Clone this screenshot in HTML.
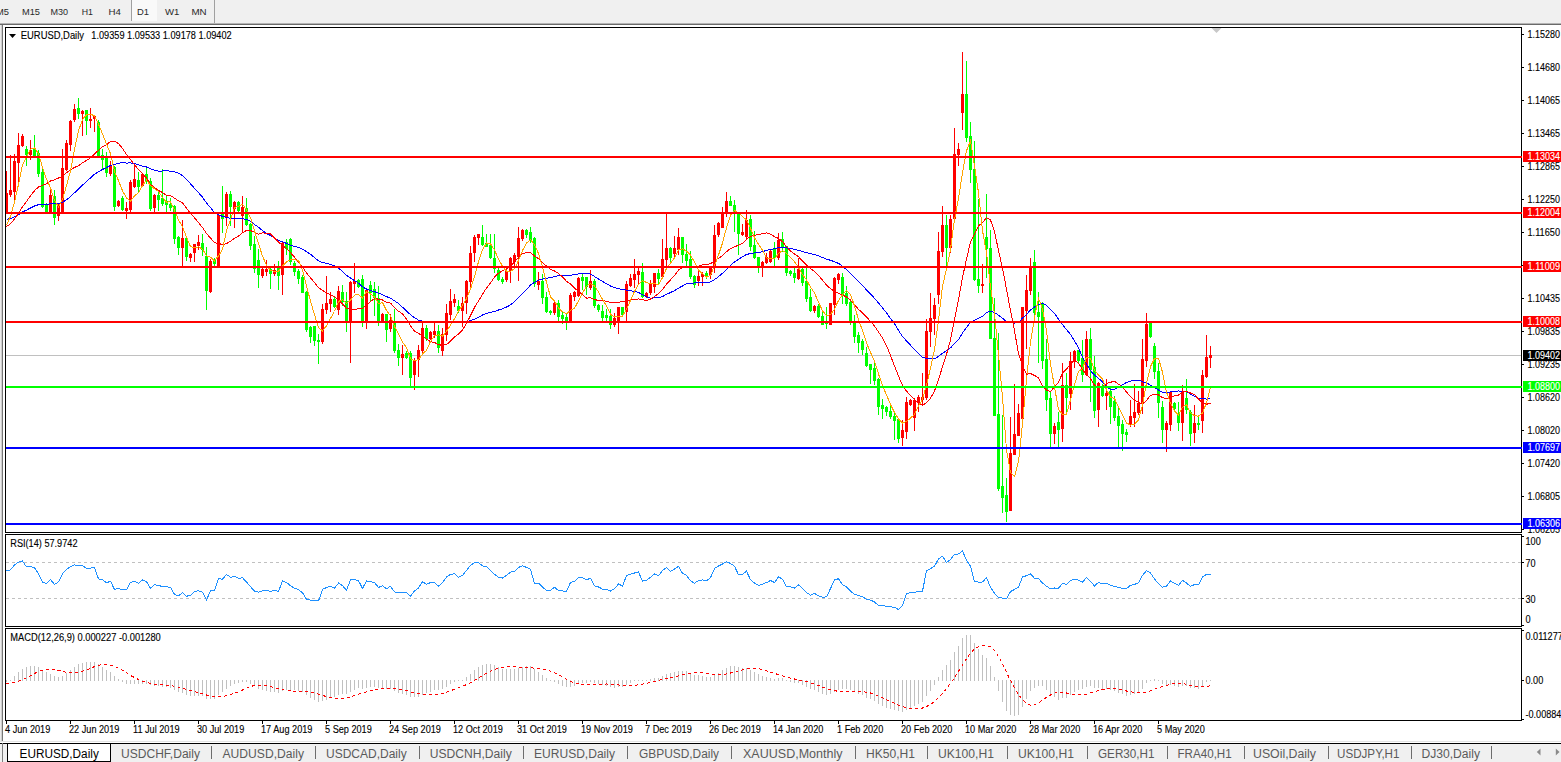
<!DOCTYPE html>
<html><head><meta charset="utf-8"><title>EURUSD,Daily</title>
<style>
html,body{margin:0;padding:0;background:#fff;width:1561px;height:762px;overflow:hidden}
svg{position:absolute;left:0;top:0;display:block}
text{font-family:"Liberation Sans",sans-serif;white-space:pre}
</style></head><body>
<svg width="1561" height="762" viewBox="0 0 1561 762">
<rect x="0" y="0" width="1561" height="762" fill="#fff"/>
<rect x="0" y="0" width="1561" height="23" fill="#f0f0f0"/>
<rect x="0" y="23" width="1561" height="1" fill="#b4b4b4"/>
<rect x="0" y="24" width="1561" height="1" fill="#6a6a6a"/>
<rect x="132" y="0" width="25" height="21" fill="#f9f9f9"/>
<rect x="131" y="0" width="1" height="21" fill="#a0a0a0"/>
<rect x="214" y="0" width="1" height="23" fill="#a0a0a0"/>
<text x="-4" y="15" font-size="9.4" fill="#2a2a2a" stroke="#2a2a2a" stroke-width="0" textLength="13.0" lengthAdjust="spacingAndGlyphs" text-anchor="start">M5</text>
<text x="22" y="15" font-size="9.4" fill="#2a2a2a" stroke="#2a2a2a" stroke-width="0" textLength="18.0" lengthAdjust="spacingAndGlyphs" text-anchor="start">M15</text>
<text x="50.4" y="15" font-size="9.4" fill="#2a2a2a" stroke="#2a2a2a" stroke-width="0" textLength="17.6" lengthAdjust="spacingAndGlyphs" text-anchor="start">M30</text>
<text x="81.7" y="15" font-size="9.4" fill="#2a2a2a" stroke="#2a2a2a" stroke-width="0" textLength="11.2" lengthAdjust="spacingAndGlyphs" text-anchor="start">H1</text>
<text x="108.6" y="15" font-size="9.4" fill="#2a2a2a" stroke="#2a2a2a" stroke-width="0" textLength="12.4" lengthAdjust="spacingAndGlyphs" text-anchor="start">H4</text>
<text x="137" y="15" font-size="9.4" fill="#2a2a2a" stroke="#2a2a2a" stroke-width="0" textLength="12.0" lengthAdjust="spacingAndGlyphs" text-anchor="start">D1</text>
<text x="165" y="15" font-size="9.4" fill="#2a2a2a" stroke="#2a2a2a" stroke-width="0" textLength="14.4" lengthAdjust="spacingAndGlyphs" text-anchor="start">W1</text>
<text x="191.4" y="15" font-size="9.4" fill="#2a2a2a" stroke="#2a2a2a" stroke-width="0" textLength="15.2" lengthAdjust="spacingAndGlyphs" text-anchor="start">MN</text>
<rect x="0" y="25" width="1" height="716" fill="#ececec"/>
<rect x="1" y="25" width="1" height="716" fill="#cfcfcf"/>
<rect x="2" y="25" width="1" height="716" fill="#777777"/>
<g shape-rendering="crispEdges">
<rect x="6" y="355" width="1515" height="1" fill="#c0c0c0"/>
<rect x="6" y="171" width="1" height="42" fill="#ff0000"/>
<rect x="5" y="193" width="3" height="20" fill="#ff0000"/>
<rect x="10" y="155" width="1" height="42" fill="#ff0000"/>
<rect x="9" y="190" width="3" height="5" fill="#ff0000"/>
<rect x="14" y="154" width="1" height="46" fill="#ff0000"/>
<rect x="13" y="161" width="3" height="31" fill="#ff0000"/>
<rect x="18" y="133" width="1" height="54" fill="#ff0000"/>
<rect x="17" y="145" width="3" height="18" fill="#ff0000"/>
<rect x="22" y="134" width="1" height="13" fill="#ff0000"/>
<rect x="21" y="136" width="3" height="10" fill="#ff0000"/>
<rect x="26" y="146" width="1" height="20" fill="#00ff00"/>
<rect x="25" y="149" width="3" height="6" fill="#00ff00"/>
<rect x="30" y="140" width="1" height="20" fill="#ff0000"/>
<rect x="29" y="150" width="3" height="5" fill="#ff0000"/>
<rect x="34" y="135" width="1" height="21" fill="#00ff00"/>
<rect x="33" y="149" width="3" height="7" fill="#00ff00"/>
<rect x="38" y="150" width="1" height="27" fill="#00ff00"/>
<rect x="37" y="153" width="3" height="21" fill="#00ff00"/>
<rect x="42" y="167" width="1" height="41" fill="#00ff00"/>
<rect x="41" y="172" width="3" height="35" fill="#00ff00"/>
<rect x="46" y="203" width="1" height="10" fill="#00ff00"/>
<rect x="45" y="204" width="3" height="8" fill="#00ff00"/>
<rect x="50" y="189" width="1" height="25" fill="#ff0000"/>
<rect x="49" y="195" width="3" height="18" fill="#ff0000"/>
<rect x="54" y="190" width="1" height="35" fill="#00ff00"/>
<rect x="53" y="196" width="3" height="22" fill="#00ff00"/>
<rect x="58" y="204" width="1" height="17" fill="#ff0000"/>
<rect x="57" y="206" width="3" height="10" fill="#ff0000"/>
<rect x="62" y="149" width="1" height="65" fill="#ff0000"/>
<rect x="61" y="168" width="3" height="44" fill="#ff0000"/>
<rect x="66" y="140" width="1" height="31" fill="#ff0000"/>
<rect x="65" y="143" width="3" height="27" fill="#ff0000"/>
<rect x="70" y="120" width="1" height="31" fill="#ff0000"/>
<rect x="69" y="121" width="3" height="24" fill="#ff0000"/>
<rect x="74" y="104" width="1" height="18" fill="#ff0000"/>
<rect x="73" y="109" width="3" height="11" fill="#ff0000"/>
<rect x="78" y="98" width="1" height="21" fill="#00ff00"/>
<rect x="77" y="108" width="3" height="6" fill="#00ff00"/>
<rect x="82" y="110" width="1" height="26" fill="#ff0000"/>
<rect x="81" y="111" width="3" height="3" fill="#ff0000"/>
<rect x="86" y="110" width="1" height="25" fill="#00ff00"/>
<rect x="85" y="110" width="3" height="11" fill="#00ff00"/>
<rect x="90" y="108" width="1" height="20" fill="#ff0000"/>
<rect x="89" y="119" width="3" height="2" fill="#ff0000"/>
<rect x="94" y="115" width="1" height="17" fill="#ff0000"/>
<rect x="93" y="116" width="3" height="3" fill="#ff0000"/>
<rect x="98" y="120" width="1" height="37" fill="#00ff00"/>
<rect x="97" y="122" width="3" height="34" fill="#00ff00"/>
<rect x="102" y="149" width="1" height="21" fill="#00ff00"/>
<rect x="101" y="155" width="3" height="5" fill="#00ff00"/>
<rect x="106" y="152" width="1" height="25" fill="#00ff00"/>
<rect x="105" y="157" width="3" height="16" fill="#00ff00"/>
<rect x="110" y="161" width="1" height="15" fill="#ff0000"/>
<rect x="109" y="166" width="3" height="8" fill="#ff0000"/>
<rect x="114" y="166" width="1" height="45" fill="#00ff00"/>
<rect x="113" y="167" width="3" height="40" fill="#00ff00"/>
<rect x="118" y="200" width="1" height="7" fill="#ff0000"/>
<rect x="117" y="201" width="3" height="5" fill="#ff0000"/>
<rect x="122" y="196" width="1" height="15" fill="#00ff00"/>
<rect x="121" y="198" width="3" height="12" fill="#00ff00"/>
<rect x="126" y="202" width="1" height="17" fill="#ff0000"/>
<rect x="125" y="208" width="3" height="3" fill="#ff0000"/>
<rect x="130" y="180" width="1" height="32" fill="#ff0000"/>
<rect x="129" y="182" width="3" height="28" fill="#ff0000"/>
<rect x="134" y="164" width="1" height="24" fill="#ff0000"/>
<rect x="133" y="179" width="3" height="8" fill="#ff0000"/>
<rect x="138" y="172" width="1" height="21" fill="#00ff00"/>
<rect x="137" y="180" width="3" height="7" fill="#00ff00"/>
<rect x="142" y="173" width="1" height="13" fill="#ff0000"/>
<rect x="141" y="174" width="3" height="12" fill="#ff0000"/>
<rect x="146" y="168" width="1" height="16" fill="#00ff00"/>
<rect x="145" y="174" width="3" height="8" fill="#00ff00"/>
<rect x="150" y="178" width="1" height="33" fill="#00ff00"/>
<rect x="149" y="181" width="3" height="28" fill="#00ff00"/>
<rect x="154" y="194" width="1" height="19" fill="#ff0000"/>
<rect x="153" y="195" width="3" height="13" fill="#ff0000"/>
<rect x="158" y="190" width="1" height="21" fill="#00ff00"/>
<rect x="157" y="195" width="3" height="5" fill="#00ff00"/>
<rect x="162" y="169" width="1" height="37" fill="#00ff00"/>
<rect x="161" y="198" width="3" height="6" fill="#00ff00"/>
<rect x="166" y="196" width="1" height="16" fill="#00ff00"/>
<rect x="165" y="201" width="3" height="4" fill="#00ff00"/>
<rect x="170" y="198" width="1" height="13" fill="#00ff00"/>
<rect x="169" y="204" width="3" height="4" fill="#00ff00"/>
<rect x="174" y="205" width="1" height="39" fill="#00ff00"/>
<rect x="173" y="206" width="3" height="33" fill="#00ff00"/>
<rect x="178" y="236" width="1" height="19" fill="#00ff00"/>
<rect x="177" y="237" width="3" height="11" fill="#00ff00"/>
<rect x="182" y="220" width="1" height="47" fill="#ff0000"/>
<rect x="181" y="238" width="3" height="10" fill="#ff0000"/>
<rect x="186" y="238" width="1" height="23" fill="#00ff00"/>
<rect x="185" y="238" width="3" height="19" fill="#00ff00"/>
<rect x="190" y="253" width="1" height="9" fill="#ff0000"/>
<rect x="189" y="254" width="3" height="4" fill="#ff0000"/>
<rect x="194" y="244" width="1" height="18" fill="#ff0000"/>
<rect x="193" y="244" width="3" height="9" fill="#ff0000"/>
<rect x="198" y="235" width="1" height="15" fill="#ff0000"/>
<rect x="197" y="242" width="3" height="4" fill="#ff0000"/>
<rect x="202" y="234" width="1" height="22" fill="#00ff00"/>
<rect x="201" y="243" width="3" height="7" fill="#00ff00"/>
<rect x="206" y="247" width="1" height="63" fill="#00ff00"/>
<rect x="205" y="256" width="3" height="35" fill="#00ff00"/>
<rect x="210" y="259" width="1" height="34" fill="#ff0000"/>
<rect x="209" y="261" width="3" height="31" fill="#ff0000"/>
<rect x="214" y="258" width="1" height="8" fill="#00ff00"/>
<rect x="213" y="259" width="3" height="5" fill="#00ff00"/>
<rect x="218" y="214" width="1" height="53" fill="#ff0000"/>
<rect x="217" y="215" width="3" height="52" fill="#ff0000"/>
<rect x="222" y="186" width="1" height="47" fill="#00ff00"/>
<rect x="221" y="213" width="3" height="6" fill="#00ff00"/>
<rect x="226" y="192" width="1" height="34" fill="#ff0000"/>
<rect x="225" y="194" width="3" height="23" fill="#ff0000"/>
<rect x="230" y="191" width="1" height="35" fill="#00ff00"/>
<rect x="229" y="194" width="3" height="13" fill="#00ff00"/>
<rect x="234" y="201" width="1" height="27" fill="#ff0000"/>
<rect x="233" y="202" width="3" height="7" fill="#ff0000"/>
<rect x="238" y="201" width="1" height="13" fill="#00ff00"/>
<rect x="237" y="202" width="3" height="9" fill="#00ff00"/>
<rect x="242" y="196" width="1" height="37" fill="#ff0000"/>
<rect x="241" y="207" width="3" height="9" fill="#ff0000"/>
<rect x="246" y="198" width="1" height="28" fill="#00ff00"/>
<rect x="245" y="208" width="3" height="17" fill="#00ff00"/>
<rect x="250" y="223" width="1" height="27" fill="#00ff00"/>
<rect x="249" y="224" width="3" height="22" fill="#00ff00"/>
<rect x="254" y="236" width="1" height="37" fill="#00ff00"/>
<rect x="253" y="244" width="3" height="25" fill="#00ff00"/>
<rect x="258" y="249" width="1" height="39" fill="#00ff00"/>
<rect x="257" y="260" width="3" height="15" fill="#00ff00"/>
<rect x="262" y="267" width="1" height="11" fill="#ff0000"/>
<rect x="261" y="269" width="3" height="7" fill="#ff0000"/>
<rect x="266" y="260" width="1" height="16" fill="#ff0000"/>
<rect x="265" y="269" width="3" height="3" fill="#ff0000"/>
<rect x="270" y="268" width="1" height="21" fill="#00ff00"/>
<rect x="269" y="269" width="3" height="5" fill="#00ff00"/>
<rect x="274" y="264" width="1" height="12" fill="#ff0000"/>
<rect x="273" y="270" width="3" height="4" fill="#ff0000"/>
<rect x="278" y="261" width="1" height="29" fill="#00ff00"/>
<rect x="277" y="267" width="3" height="9" fill="#00ff00"/>
<rect x="282" y="242" width="1" height="53" fill="#ff0000"/>
<rect x="281" y="243" width="3" height="32" fill="#ff0000"/>
<rect x="286" y="239" width="1" height="16" fill="#00ff00"/>
<rect x="285" y="242" width="3" height="7" fill="#00ff00"/>
<rect x="290" y="238" width="1" height="27" fill="#00ff00"/>
<rect x="289" y="239" width="3" height="23" fill="#00ff00"/>
<rect x="294" y="261" width="1" height="15" fill="#00ff00"/>
<rect x="293" y="263" width="3" height="9" fill="#00ff00"/>
<rect x="298" y="269" width="1" height="15" fill="#00ff00"/>
<rect x="297" y="271" width="3" height="8" fill="#00ff00"/>
<rect x="302" y="275" width="1" height="18" fill="#00ff00"/>
<rect x="301" y="277" width="3" height="16" fill="#00ff00"/>
<rect x="306" y="291" width="1" height="41" fill="#00ff00"/>
<rect x="305" y="292" width="3" height="38" fill="#00ff00"/>
<rect x="310" y="326" width="1" height="17" fill="#00ff00"/>
<rect x="309" y="327" width="3" height="10" fill="#00ff00"/>
<rect x="314" y="326" width="1" height="20" fill="#00ff00"/>
<rect x="313" y="326" width="3" height="15" fill="#00ff00"/>
<rect x="318" y="334" width="1" height="30" fill="#00ff00"/>
<rect x="317" y="340" width="3" height="2" fill="#00ff00"/>
<rect x="322" y="304" width="1" height="40" fill="#ff0000"/>
<rect x="321" y="309" width="3" height="33" fill="#ff0000"/>
<rect x="326" y="276" width="1" height="38" fill="#ff0000"/>
<rect x="325" y="303" width="3" height="7" fill="#ff0000"/>
<rect x="330" y="292" width="1" height="20" fill="#ff0000"/>
<rect x="329" y="299" width="3" height="5" fill="#ff0000"/>
<rect x="334" y="297" width="1" height="11" fill="#00ff00"/>
<rect x="333" y="299" width="3" height="8" fill="#00ff00"/>
<rect x="338" y="286" width="1" height="29" fill="#ff0000"/>
<rect x="337" y="291" width="3" height="19" fill="#ff0000"/>
<rect x="342" y="285" width="1" height="21" fill="#00ff00"/>
<rect x="341" y="292" width="3" height="10" fill="#00ff00"/>
<rect x="346" y="292" width="1" height="40" fill="#00ff00"/>
<rect x="345" y="301" width="3" height="21" fill="#00ff00"/>
<rect x="350" y="281" width="1" height="82" fill="#ff0000"/>
<rect x="349" y="282" width="3" height="40" fill="#ff0000"/>
<rect x="354" y="263" width="1" height="30" fill="#ff0000"/>
<rect x="353" y="281" width="3" height="3" fill="#ff0000"/>
<rect x="358" y="279" width="1" height="9" fill="#00ff00"/>
<rect x="357" y="280" width="3" height="7" fill="#00ff00"/>
<rect x="362" y="275" width="1" height="52" fill="#00ff00"/>
<rect x="361" y="279" width="3" height="42" fill="#00ff00"/>
<rect x="366" y="289" width="1" height="40" fill="#ff0000"/>
<rect x="365" y="290" width="3" height="31" fill="#ff0000"/>
<rect x="370" y="281" width="1" height="20" fill="#00ff00"/>
<rect x="369" y="285" width="3" height="8" fill="#00ff00"/>
<rect x="374" y="282" width="1" height="34" fill="#00ff00"/>
<rect x="373" y="289" width="3" height="9" fill="#00ff00"/>
<rect x="378" y="286" width="1" height="40" fill="#00ff00"/>
<rect x="377" y="298" width="3" height="23" fill="#00ff00"/>
<rect x="382" y="313" width="1" height="10" fill="#ff0000"/>
<rect x="381" y="314" width="3" height="8" fill="#ff0000"/>
<rect x="386" y="314" width="1" height="28" fill="#00ff00"/>
<rect x="385" y="314" width="3" height="16" fill="#00ff00"/>
<rect x="390" y="314" width="1" height="18" fill="#ff0000"/>
<rect x="389" y="320" width="3" height="9" fill="#ff0000"/>
<rect x="394" y="309" width="1" height="44" fill="#00ff00"/>
<rect x="393" y="322" width="3" height="29" fill="#00ff00"/>
<rect x="398" y="344" width="1" height="22" fill="#00ff00"/>
<rect x="397" y="350" width="3" height="8" fill="#00ff00"/>
<rect x="402" y="345" width="1" height="30" fill="#ff0000"/>
<rect x="401" y="354" width="3" height="4" fill="#ff0000"/>
<rect x="406" y="351" width="1" height="8" fill="#00ff00"/>
<rect x="405" y="353" width="3" height="5" fill="#00ff00"/>
<rect x="410" y="351" width="1" height="37" fill="#00ff00"/>
<rect x="409" y="353" width="3" height="25" fill="#00ff00"/>
<rect x="414" y="358" width="1" height="32" fill="#ff0000"/>
<rect x="413" y="360" width="3" height="15" fill="#ff0000"/>
<rect x="418" y="345" width="1" height="32" fill="#ff0000"/>
<rect x="417" y="350" width="3" height="10" fill="#ff0000"/>
<rect x="422" y="322" width="1" height="31" fill="#ff0000"/>
<rect x="421" y="328" width="3" height="23" fill="#ff0000"/>
<rect x="426" y="325" width="1" height="16" fill="#00ff00"/>
<rect x="425" y="328" width="3" height="11" fill="#00ff00"/>
<rect x="430" y="331" width="1" height="9" fill="#ff0000"/>
<rect x="429" y="332" width="3" height="7" fill="#ff0000"/>
<rect x="434" y="322" width="1" height="16" fill="#ff0000"/>
<rect x="433" y="331" width="3" height="4" fill="#ff0000"/>
<rect x="438" y="325" width="1" height="28" fill="#00ff00"/>
<rect x="437" y="331" width="3" height="17" fill="#00ff00"/>
<rect x="442" y="328" width="1" height="28" fill="#ff0000"/>
<rect x="441" y="334" width="3" height="17" fill="#ff0000"/>
<rect x="446" y="304" width="1" height="37" fill="#ff0000"/>
<rect x="445" y="313" width="3" height="22" fill="#ff0000"/>
<rect x="450" y="289" width="1" height="31" fill="#ff0000"/>
<rect x="449" y="301" width="3" height="14" fill="#ff0000"/>
<rect x="454" y="294" width="1" height="13" fill="#ff0000"/>
<rect x="453" y="299" width="3" height="4" fill="#ff0000"/>
<rect x="458" y="300" width="1" height="13" fill="#00ff00"/>
<rect x="457" y="306" width="3" height="5" fill="#00ff00"/>
<rect x="462" y="297" width="1" height="30" fill="#ff0000"/>
<rect x="461" y="303" width="3" height="8" fill="#ff0000"/>
<rect x="466" y="280" width="1" height="34" fill="#ff0000"/>
<rect x="465" y="281" width="3" height="22" fill="#ff0000"/>
<rect x="470" y="246" width="1" height="44" fill="#ff0000"/>
<rect x="469" y="253" width="3" height="29" fill="#ff0000"/>
<rect x="474" y="235" width="1" height="27" fill="#ff0000"/>
<rect x="473" y="237" width="3" height="16" fill="#ff0000"/>
<rect x="478" y="234" width="1" height="11" fill="#ff0000"/>
<rect x="477" y="234" width="3" height="4" fill="#ff0000"/>
<rect x="482" y="225" width="1" height="21" fill="#00ff00"/>
<rect x="481" y="237" width="3" height="8" fill="#00ff00"/>
<rect x="486" y="234" width="1" height="13" fill="#00ff00"/>
<rect x="485" y="243" width="3" height="4" fill="#00ff00"/>
<rect x="490" y="234" width="1" height="25" fill="#00ff00"/>
<rect x="489" y="245" width="3" height="13" fill="#00ff00"/>
<rect x="494" y="234" width="1" height="39" fill="#00ff00"/>
<rect x="493" y="258" width="3" height="11" fill="#00ff00"/>
<rect x="498" y="268" width="1" height="13" fill="#00ff00"/>
<rect x="497" y="270" width="3" height="10" fill="#00ff00"/>
<rect x="502" y="277" width="1" height="7" fill="#00ff00"/>
<rect x="501" y="279" width="3" height="3" fill="#00ff00"/>
<rect x="506" y="267" width="1" height="15" fill="#ff0000"/>
<rect x="505" y="271" width="3" height="9" fill="#ff0000"/>
<rect x="510" y="257" width="1" height="26" fill="#ff0000"/>
<rect x="509" y="258" width="3" height="13" fill="#ff0000"/>
<rect x="514" y="253" width="1" height="14" fill="#ff0000"/>
<rect x="513" y="255" width="3" height="7" fill="#ff0000"/>
<rect x="518" y="227" width="1" height="54" fill="#ff0000"/>
<rect x="517" y="238" width="3" height="19" fill="#ff0000"/>
<rect x="522" y="229" width="1" height="12" fill="#ff0000"/>
<rect x="521" y="230" width="3" height="9" fill="#ff0000"/>
<rect x="526" y="229" width="1" height="9" fill="#00ff00"/>
<rect x="525" y="230" width="3" height="5" fill="#00ff00"/>
<rect x="530" y="227" width="1" height="16" fill="#00ff00"/>
<rect x="529" y="232" width="3" height="8" fill="#00ff00"/>
<rect x="534" y="237" width="1" height="50" fill="#00ff00"/>
<rect x="533" y="238" width="3" height="46" fill="#00ff00"/>
<rect x="538" y="272" width="1" height="18" fill="#ff0000"/>
<rect x="537" y="281" width="3" height="4" fill="#ff0000"/>
<rect x="542" y="274" width="1" height="30" fill="#00ff00"/>
<rect x="541" y="281" width="3" height="17" fill="#00ff00"/>
<rect x="546" y="292" width="1" height="21" fill="#00ff00"/>
<rect x="545" y="297" width="3" height="15" fill="#00ff00"/>
<rect x="550" y="310" width="1" height="5" fill="#00ff00"/>
<rect x="549" y="311" width="3" height="2" fill="#00ff00"/>
<rect x="554" y="300" width="1" height="15" fill="#ff0000"/>
<rect x="553" y="303" width="3" height="10" fill="#ff0000"/>
<rect x="558" y="300" width="1" height="22" fill="#00ff00"/>
<rect x="557" y="303" width="3" height="14" fill="#00ff00"/>
<rect x="562" y="312" width="1" height="12" fill="#00ff00"/>
<rect x="561" y="315" width="3" height="4" fill="#00ff00"/>
<rect x="566" y="313" width="1" height="17" fill="#00ff00"/>
<rect x="565" y="317" width="3" height="5" fill="#00ff00"/>
<rect x="570" y="293" width="1" height="29" fill="#ff0000"/>
<rect x="569" y="295" width="3" height="27" fill="#ff0000"/>
<rect x="574" y="291" width="1" height="10" fill="#ff0000"/>
<rect x="573" y="292" width="3" height="5" fill="#ff0000"/>
<rect x="578" y="277" width="1" height="20" fill="#ff0000"/>
<rect x="577" y="278" width="3" height="18" fill="#ff0000"/>
<rect x="582" y="274" width="1" height="16" fill="#00ff00"/>
<rect x="581" y="277" width="3" height="4" fill="#00ff00"/>
<rect x="586" y="277" width="1" height="18" fill="#00ff00"/>
<rect x="585" y="277" width="3" height="10" fill="#00ff00"/>
<rect x="590" y="270" width="1" height="20" fill="#ff0000"/>
<rect x="589" y="281" width="3" height="7" fill="#ff0000"/>
<rect x="594" y="279" width="1" height="29" fill="#00ff00"/>
<rect x="593" y="281" width="3" height="25" fill="#00ff00"/>
<rect x="598" y="304" width="1" height="8" fill="#00ff00"/>
<rect x="597" y="305" width="3" height="5" fill="#00ff00"/>
<rect x="602" y="305" width="1" height="17" fill="#00ff00"/>
<rect x="601" y="311" width="3" height="7" fill="#00ff00"/>
<rect x="606" y="309" width="1" height="13" fill="#00ff00"/>
<rect x="605" y="315" width="3" height="3" fill="#00ff00"/>
<rect x="610" y="309" width="1" height="20" fill="#00ff00"/>
<rect x="609" y="316" width="3" height="9" fill="#00ff00"/>
<rect x="614" y="313" width="1" height="14" fill="#ff0000"/>
<rect x="613" y="318" width="3" height="7" fill="#ff0000"/>
<rect x="618" y="307" width="1" height="27" fill="#ff0000"/>
<rect x="617" y="307" width="3" height="14" fill="#ff0000"/>
<rect x="622" y="307" width="1" height="8" fill="#00ff00"/>
<rect x="621" y="307" width="3" height="8" fill="#00ff00"/>
<rect x="626" y="281" width="1" height="41" fill="#ff0000"/>
<rect x="625" y="284" width="3" height="28" fill="#ff0000"/>
<rect x="630" y="274" width="1" height="13" fill="#ff0000"/>
<rect x="629" y="278" width="3" height="8" fill="#ff0000"/>
<rect x="634" y="259" width="1" height="29" fill="#ff0000"/>
<rect x="633" y="274" width="3" height="6" fill="#ff0000"/>
<rect x="638" y="268" width="1" height="17" fill="#ff0000"/>
<rect x="637" y="271" width="3" height="4" fill="#ff0000"/>
<rect x="642" y="263" width="1" height="35" fill="#00ff00"/>
<rect x="641" y="272" width="3" height="25" fill="#00ff00"/>
<rect x="646" y="292" width="1" height="6" fill="#ff0000"/>
<rect x="645" y="293" width="3" height="4" fill="#ff0000"/>
<rect x="650" y="280" width="1" height="15" fill="#ff0000"/>
<rect x="649" y="284" width="3" height="9" fill="#ff0000"/>
<rect x="654" y="273" width="1" height="20" fill="#ff0000"/>
<rect x="653" y="273" width="3" height="14" fill="#ff0000"/>
<rect x="658" y="269" width="1" height="15" fill="#00ff00"/>
<rect x="657" y="273" width="3" height="6" fill="#00ff00"/>
<rect x="662" y="239" width="1" height="38" fill="#ff0000"/>
<rect x="661" y="259" width="3" height="18" fill="#ff0000"/>
<rect x="666" y="213" width="1" height="53" fill="#ff0000"/>
<rect x="665" y="248" width="3" height="12" fill="#ff0000"/>
<rect x="670" y="247" width="1" height="16" fill="#00ff00"/>
<rect x="669" y="248" width="3" height="10" fill="#00ff00"/>
<rect x="674" y="236" width="1" height="22" fill="#ff0000"/>
<rect x="673" y="248" width="3" height="6" fill="#ff0000"/>
<rect x="678" y="228" width="1" height="27" fill="#ff0000"/>
<rect x="677" y="237" width="3" height="13" fill="#ff0000"/>
<rect x="682" y="237" width="1" height="26" fill="#00ff00"/>
<rect x="681" y="237" width="3" height="18" fill="#00ff00"/>
<rect x="686" y="244" width="1" height="22" fill="#00ff00"/>
<rect x="685" y="254" width="3" height="7" fill="#00ff00"/>
<rect x="690" y="251" width="1" height="28" fill="#00ff00"/>
<rect x="689" y="259" width="3" height="18" fill="#00ff00"/>
<rect x="694" y="275" width="1" height="13" fill="#00ff00"/>
<rect x="693" y="276" width="3" height="9" fill="#00ff00"/>
<rect x="698" y="271" width="1" height="15" fill="#ff0000"/>
<rect x="697" y="276" width="3" height="5" fill="#ff0000"/>
<rect x="702" y="272" width="1" height="14" fill="#ff0000"/>
<rect x="701" y="274" width="3" height="3" fill="#ff0000"/>
<rect x="706" y="271" width="1" height="8" fill="#00ff00"/>
<rect x="705" y="273" width="3" height="4" fill="#00ff00"/>
<rect x="710" y="267" width="1" height="12" fill="#ff0000"/>
<rect x="709" y="268" width="3" height="7" fill="#ff0000"/>
<rect x="714" y="225" width="1" height="48" fill="#ff0000"/>
<rect x="713" y="235" width="3" height="33" fill="#ff0000"/>
<rect x="718" y="222" width="1" height="15" fill="#ff0000"/>
<rect x="717" y="223" width="3" height="12" fill="#ff0000"/>
<rect x="722" y="207" width="1" height="21" fill="#ff0000"/>
<rect x="721" y="213" width="3" height="15" fill="#ff0000"/>
<rect x="726" y="192" width="1" height="25" fill="#ff0000"/>
<rect x="725" y="201" width="3" height="12" fill="#ff0000"/>
<rect x="730" y="196" width="1" height="10" fill="#00ff00"/>
<rect x="729" y="201" width="3" height="5" fill="#00ff00"/>
<rect x="734" y="200" width="1" height="32" fill="#00ff00"/>
<rect x="733" y="205" width="3" height="7" fill="#00ff00"/>
<rect x="738" y="213" width="1" height="42" fill="#00ff00"/>
<rect x="737" y="214" width="3" height="20" fill="#00ff00"/>
<rect x="742" y="224" width="1" height="12" fill="#ff0000"/>
<rect x="741" y="232" width="3" height="3" fill="#ff0000"/>
<rect x="746" y="210" width="1" height="29" fill="#ff0000"/>
<rect x="745" y="220" width="3" height="17" fill="#ff0000"/>
<rect x="750" y="215" width="1" height="36" fill="#00ff00"/>
<rect x="749" y="219" width="3" height="28" fill="#00ff00"/>
<rect x="754" y="231" width="1" height="28" fill="#00ff00"/>
<rect x="753" y="245" width="3" height="13" fill="#00ff00"/>
<rect x="758" y="257" width="1" height="16" fill="#00ff00"/>
<rect x="757" y="257" width="3" height="10" fill="#00ff00"/>
<rect x="762" y="261" width="1" height="16" fill="#ff0000"/>
<rect x="761" y="262" width="3" height="5" fill="#ff0000"/>
<rect x="766" y="253" width="1" height="11" fill="#ff0000"/>
<rect x="765" y="257" width="3" height="6" fill="#ff0000"/>
<rect x="770" y="250" width="1" height="13" fill="#ff0000"/>
<rect x="769" y="251" width="3" height="11" fill="#ff0000"/>
<rect x="774" y="242" width="1" height="25" fill="#00ff00"/>
<rect x="773" y="249" width="3" height="9" fill="#00ff00"/>
<rect x="778" y="233" width="1" height="27" fill="#ff0000"/>
<rect x="777" y="240" width="3" height="18" fill="#ff0000"/>
<rect x="782" y="232" width="1" height="20" fill="#00ff00"/>
<rect x="781" y="239" width="3" height="8" fill="#00ff00"/>
<rect x="786" y="246" width="1" height="30" fill="#00ff00"/>
<rect x="785" y="246" width="3" height="27" fill="#00ff00"/>
<rect x="790" y="270" width="1" height="6" fill="#00ff00"/>
<rect x="789" y="271" width="3" height="3" fill="#00ff00"/>
<rect x="794" y="268" width="1" height="15" fill="#00ff00"/>
<rect x="793" y="273" width="3" height="5" fill="#00ff00"/>
<rect x="798" y="258" width="1" height="22" fill="#ff0000"/>
<rect x="797" y="269" width="3" height="10" fill="#ff0000"/>
<rect x="802" y="268" width="1" height="18" fill="#00ff00"/>
<rect x="801" y="269" width="3" height="14" fill="#00ff00"/>
<rect x="806" y="264" width="1" height="38" fill="#00ff00"/>
<rect x="805" y="281" width="3" height="18" fill="#00ff00"/>
<rect x="810" y="289" width="1" height="23" fill="#00ff00"/>
<rect x="809" y="297" width="3" height="14" fill="#00ff00"/>
<rect x="814" y="305" width="1" height="8" fill="#ff0000"/>
<rect x="813" y="306" width="3" height="5" fill="#ff0000"/>
<rect x="818" y="304" width="1" height="14" fill="#00ff00"/>
<rect x="817" y="306" width="3" height="11" fill="#00ff00"/>
<rect x="822" y="311" width="1" height="14" fill="#00ff00"/>
<rect x="821" y="316" width="3" height="9" fill="#00ff00"/>
<rect x="826" y="307" width="1" height="22" fill="#00ff00"/>
<rect x="825" y="321" width="3" height="3" fill="#00ff00"/>
<rect x="830" y="303" width="1" height="22" fill="#ff0000"/>
<rect x="829" y="303" width="3" height="22" fill="#ff0000"/>
<rect x="834" y="277" width="1" height="38" fill="#ff0000"/>
<rect x="833" y="278" width="3" height="27" fill="#ff0000"/>
<rect x="838" y="273" width="1" height="11" fill="#ff0000"/>
<rect x="837" y="274" width="3" height="6" fill="#ff0000"/>
<rect x="842" y="273" width="1" height="31" fill="#00ff00"/>
<rect x="841" y="277" width="3" height="19" fill="#00ff00"/>
<rect x="846" y="286" width="1" height="20" fill="#00ff00"/>
<rect x="845" y="293" width="3" height="11" fill="#00ff00"/>
<rect x="850" y="300" width="1" height="25" fill="#00ff00"/>
<rect x="849" y="302" width="3" height="21" fill="#00ff00"/>
<rect x="854" y="315" width="1" height="28" fill="#00ff00"/>
<rect x="853" y="323" width="3" height="14" fill="#00ff00"/>
<rect x="858" y="332" width="1" height="21" fill="#00ff00"/>
<rect x="857" y="335" width="3" height="8" fill="#00ff00"/>
<rect x="862" y="339" width="1" height="16" fill="#00ff00"/>
<rect x="861" y="341" width="3" height="9" fill="#00ff00"/>
<rect x="866" y="347" width="1" height="20" fill="#00ff00"/>
<rect x="865" y="353" width="3" height="13" fill="#00ff00"/>
<rect x="870" y="364" width="1" height="20" fill="#00ff00"/>
<rect x="869" y="364" width="3" height="6" fill="#00ff00"/>
<rect x="874" y="360" width="1" height="25" fill="#00ff00"/>
<rect x="873" y="368" width="3" height="13" fill="#00ff00"/>
<rect x="878" y="378" width="1" height="37" fill="#00ff00"/>
<rect x="877" y="379" width="3" height="28" fill="#00ff00"/>
<rect x="882" y="399" width="1" height="20" fill="#00ff00"/>
<rect x="881" y="405" width="3" height="4" fill="#00ff00"/>
<rect x="886" y="406" width="1" height="10" fill="#00ff00"/>
<rect x="885" y="407" width="3" height="5" fill="#00ff00"/>
<rect x="890" y="405" width="1" height="14" fill="#00ff00"/>
<rect x="889" y="411" width="3" height="6" fill="#00ff00"/>
<rect x="894" y="413" width="1" height="27" fill="#00ff00"/>
<rect x="893" y="416" width="3" height="5" fill="#00ff00"/>
<rect x="898" y="418" width="1" height="25" fill="#00ff00"/>
<rect x="897" y="419" width="3" height="20" fill="#00ff00"/>
<rect x="902" y="420" width="1" height="26" fill="#ff0000"/>
<rect x="901" y="430" width="3" height="8" fill="#ff0000"/>
<rect x="906" y="397" width="1" height="42" fill="#ff0000"/>
<rect x="905" y="402" width="3" height="30" fill="#ff0000"/>
<rect x="910" y="399" width="1" height="7" fill="#ff0000"/>
<rect x="909" y="400" width="3" height="5" fill="#ff0000"/>
<rect x="914" y="398" width="1" height="33" fill="#ff0000"/>
<rect x="913" y="400" width="3" height="18" fill="#ff0000"/>
<rect x="918" y="395" width="1" height="17" fill="#ff0000"/>
<rect x="917" y="397" width="3" height="6" fill="#ff0000"/>
<rect x="922" y="373" width="1" height="33" fill="#ff0000"/>
<rect x="921" y="397" width="3" height="3" fill="#ff0000"/>
<rect x="926" y="319" width="1" height="81" fill="#ff0000"/>
<rect x="925" y="331" width="3" height="67" fill="#ff0000"/>
<rect x="930" y="293" width="1" height="54" fill="#ff0000"/>
<rect x="929" y="318" width="3" height="14" fill="#ff0000"/>
<rect x="934" y="298" width="1" height="37" fill="#ff0000"/>
<rect x="933" y="305" width="3" height="14" fill="#ff0000"/>
<rect x="938" y="232" width="1" height="72" fill="#ff0000"/>
<rect x="937" y="251" width="3" height="44" fill="#ff0000"/>
<rect x="942" y="206" width="1" height="51" fill="#ff0000"/>
<rect x="941" y="225" width="3" height="27" fill="#ff0000"/>
<rect x="946" y="215" width="1" height="55" fill="#00ff00"/>
<rect x="945" y="225" width="3" height="23" fill="#00ff00"/>
<rect x="950" y="215" width="1" height="38" fill="#ff0000"/>
<rect x="949" y="219" width="3" height="29" fill="#ff0000"/>
<rect x="954" y="128" width="1" height="91" fill="#ff0000"/>
<rect x="953" y="154" width="3" height="65" fill="#ff0000"/>
<rect x="958" y="143" width="1" height="23" fill="#ff0000"/>
<rect x="957" y="149" width="3" height="6" fill="#ff0000"/>
<rect x="962" y="52" width="1" height="78" fill="#ff0000"/>
<rect x="961" y="94" width="3" height="19" fill="#ff0000"/>
<rect x="966" y="61" width="1" height="81" fill="#00ff00"/>
<rect x="965" y="94" width="3" height="44" fill="#00ff00"/>
<rect x="970" y="122" width="1" height="61" fill="#00ff00"/>
<rect x="969" y="136" width="3" height="34" fill="#00ff00"/>
<rect x="974" y="141" width="1" height="140" fill="#00ff00"/>
<rect x="973" y="169" width="3" height="111" fill="#00ff00"/>
<rect x="978" y="199" width="1" height="94" fill="#00ff00"/>
<rect x="977" y="279" width="3" height="7" fill="#00ff00"/>
<rect x="982" y="264" width="1" height="29" fill="#ff0000"/>
<rect x="981" y="284" width="3" height="2" fill="#ff0000"/>
<rect x="986" y="194" width="1" height="84" fill="#00ff00"/>
<rect x="985" y="237" width="3" height="12" fill="#00ff00"/>
<rect x="990" y="230" width="1" height="109" fill="#00ff00"/>
<rect x="989" y="248" width="3" height="91" fill="#00ff00"/>
<rect x="994" y="298" width="1" height="118" fill="#00ff00"/>
<rect x="993" y="338" width="3" height="78" fill="#00ff00"/>
<rect x="998" y="333" width="1" height="158" fill="#00ff00"/>
<rect x="997" y="414" width="3" height="75" fill="#00ff00"/>
<rect x="1002" y="415" width="1" height="98" fill="#00ff00"/>
<rect x="1001" y="486" width="3" height="12" fill="#00ff00"/>
<rect x="1006" y="478" width="1" height="44" fill="#00ff00"/>
<rect x="1005" y="495" width="3" height="17" fill="#00ff00"/>
<rect x="1010" y="417" width="1" height="94" fill="#ff0000"/>
<rect x="1009" y="453" width="3" height="58" fill="#ff0000"/>
<rect x="1014" y="384" width="1" height="71" fill="#ff0000"/>
<rect x="1013" y="434" width="3" height="21" fill="#ff0000"/>
<rect x="1018" y="404" width="1" height="32" fill="#ff0000"/>
<rect x="1017" y="413" width="3" height="23" fill="#ff0000"/>
<rect x="1022" y="307" width="1" height="112" fill="#ff0000"/>
<rect x="1021" y="307" width="3" height="112" fill="#ff0000"/>
<rect x="1026" y="275" width="1" height="74" fill="#ff0000"/>
<rect x="1025" y="290" width="3" height="21" fill="#ff0000"/>
<rect x="1030" y="258" width="1" height="37" fill="#ff0000"/>
<rect x="1029" y="266" width="3" height="25" fill="#ff0000"/>
<rect x="1034" y="250" width="1" height="65" fill="#00ff00"/>
<rect x="1033" y="262" width="3" height="51" fill="#00ff00"/>
<rect x="1038" y="292" width="1" height="71" fill="#00ff00"/>
<rect x="1037" y="312" width="3" height="5" fill="#00ff00"/>
<rect x="1042" y="302" width="1" height="67" fill="#00ff00"/>
<rect x="1041" y="303" width="3" height="58" fill="#00ff00"/>
<rect x="1046" y="339" width="1" height="72" fill="#00ff00"/>
<rect x="1045" y="359" width="3" height="41" fill="#00ff00"/>
<rect x="1050" y="391" width="1" height="56" fill="#00ff00"/>
<rect x="1049" y="398" width="3" height="36" fill="#00ff00"/>
<rect x="1054" y="423" width="1" height="21" fill="#ff0000"/>
<rect x="1053" y="426" width="3" height="8" fill="#ff0000"/>
<rect x="1058" y="412" width="1" height="37" fill="#00ff00"/>
<rect x="1057" y="422" width="3" height="8" fill="#00ff00"/>
<rect x="1062" y="363" width="1" height="79" fill="#ff0000"/>
<rect x="1061" y="385" width="3" height="44" fill="#ff0000"/>
<rect x="1066" y="373" width="1" height="41" fill="#00ff00"/>
<rect x="1065" y="385" width="3" height="13" fill="#00ff00"/>
<rect x="1070" y="352" width="1" height="58" fill="#ff0000"/>
<rect x="1069" y="361" width="3" height="33" fill="#ff0000"/>
<rect x="1074" y="350" width="1" height="18" fill="#ff0000"/>
<rect x="1073" y="351" width="3" height="11" fill="#ff0000"/>
<rect x="1078" y="350" width="1" height="13" fill="#00ff00"/>
<rect x="1077" y="350" width="3" height="11" fill="#00ff00"/>
<rect x="1082" y="340" width="1" height="42" fill="#00ff00"/>
<rect x="1081" y="358" width="3" height="17" fill="#00ff00"/>
<rect x="1086" y="331" width="1" height="45" fill="#ff0000"/>
<rect x="1085" y="339" width="3" height="36" fill="#ff0000"/>
<rect x="1090" y="328" width="1" height="74" fill="#00ff00"/>
<rect x="1089" y="339" width="3" height="31" fill="#00ff00"/>
<rect x="1094" y="356" width="1" height="62" fill="#00ff00"/>
<rect x="1093" y="367" width="3" height="44" fill="#00ff00"/>
<rect x="1098" y="382" width="1" height="45" fill="#ff0000"/>
<rect x="1097" y="383" width="3" height="27" fill="#ff0000"/>
<rect x="1102" y="384" width="1" height="13" fill="#00ff00"/>
<rect x="1101" y="386" width="3" height="10" fill="#00ff00"/>
<rect x="1106" y="379" width="1" height="31" fill="#ff0000"/>
<rect x="1105" y="393" width="3" height="3" fill="#ff0000"/>
<rect x="1110" y="386" width="1" height="38" fill="#00ff00"/>
<rect x="1109" y="391" width="3" height="16" fill="#00ff00"/>
<rect x="1114" y="396" width="1" height="25" fill="#00ff00"/>
<rect x="1113" y="401" width="3" height="17" fill="#00ff00"/>
<rect x="1118" y="407" width="1" height="42" fill="#00ff00"/>
<rect x="1117" y="416" width="3" height="10" fill="#00ff00"/>
<rect x="1122" y="420" width="1" height="31" fill="#00ff00"/>
<rect x="1121" y="424" width="3" height="10" fill="#00ff00"/>
<rect x="1126" y="429" width="1" height="13" fill="#00ff00"/>
<rect x="1125" y="432" width="3" height="3" fill="#00ff00"/>
<rect x="1130" y="400" width="1" height="27" fill="#ff0000"/>
<rect x="1129" y="416" width="3" height="8" fill="#ff0000"/>
<rect x="1134" y="384" width="1" height="43" fill="#ff0000"/>
<rect x="1133" y="412" width="3" height="6" fill="#ff0000"/>
<rect x="1138" y="391" width="1" height="24" fill="#ff0000"/>
<rect x="1137" y="403" width="3" height="10" fill="#ff0000"/>
<rect x="1142" y="339" width="1" height="75" fill="#ff0000"/>
<rect x="1141" y="359" width="3" height="45" fill="#ff0000"/>
<rect x="1146" y="313" width="1" height="54" fill="#ff0000"/>
<rect x="1145" y="324" width="3" height="37" fill="#ff0000"/>
<rect x="1150" y="323" width="1" height="15" fill="#00ff00"/>
<rect x="1149" y="323" width="3" height="14" fill="#00ff00"/>
<rect x="1154" y="343" width="1" height="36" fill="#00ff00"/>
<rect x="1153" y="346" width="3" height="26" fill="#00ff00"/>
<rect x="1158" y="363" width="1" height="55" fill="#00ff00"/>
<rect x="1157" y="371" width="3" height="32" fill="#00ff00"/>
<rect x="1162" y="401" width="1" height="42" fill="#00ff00"/>
<rect x="1161" y="407" width="3" height="23" fill="#00ff00"/>
<rect x="1166" y="421" width="1" height="31" fill="#ff0000"/>
<rect x="1165" y="423" width="3" height="7" fill="#ff0000"/>
<rect x="1170" y="391" width="1" height="40" fill="#ff0000"/>
<rect x="1169" y="392" width="3" height="33" fill="#ff0000"/>
<rect x="1174" y="402" width="1" height="8" fill="#00ff00"/>
<rect x="1173" y="403" width="3" height="6" fill="#00ff00"/>
<rect x="1178" y="402" width="1" height="29" fill="#00ff00"/>
<rect x="1177" y="413" width="3" height="10" fill="#00ff00"/>
<rect x="1182" y="385" width="1" height="56" fill="#ff0000"/>
<rect x="1181" y="391" width="3" height="32" fill="#ff0000"/>
<rect x="1186" y="379" width="1" height="35" fill="#00ff00"/>
<rect x="1185" y="398" width="3" height="12" fill="#00ff00"/>
<rect x="1190" y="410" width="1" height="36" fill="#00ff00"/>
<rect x="1189" y="412" width="3" height="22" fill="#00ff00"/>
<rect x="1194" y="405" width="1" height="38" fill="#ff0000"/>
<rect x="1193" y="423" width="3" height="10" fill="#ff0000"/>
<rect x="1198" y="417" width="1" height="13" fill="#00ff00"/>
<rect x="1197" y="423" width="3" height="2" fill="#00ff00"/>
<rect x="1202" y="370" width="1" height="63" fill="#ff0000"/>
<rect x="1201" y="375" width="3" height="46" fill="#ff0000"/>
<rect x="1206" y="335" width="1" height="43" fill="#ff0000"/>
<rect x="1205" y="357" width="3" height="20" fill="#ff0000"/>
<rect x="1210" y="346" width="1" height="22" fill="#ff0000"/>
<rect x="1209" y="355" width="3" height="3" fill="#ff0000"/>
</g>
<clipPath id="cm"><rect x="6" y="28" width="1515" height="504"/></clipPath>
<g clip-path="url(#cm)">
<polyline points="6.5,219.4 10.5,218.6 14.5,216.9 18.5,214.6 22.5,212.0 26.5,210.1 30.5,208.0 34.5,206.0 38.5,204.7 42.5,204.4 46.5,204.4 50.5,203.7 54.5,203.9 58.5,203.6 62.5,202.1 66.5,199.8 70.5,196.7 74.5,192.8 78.5,188.9 82.5,185.1 86.5,181.5 90.5,177.9 94.5,174.2 98.5,171.8 102.5,169.5 106.5,167.6 110.5,165.4 114.5,164.5 118.5,163.4 122.5,162.6 126.5,163.1 130.5,162.9 134.5,163.4 138.5,164.8 142.5,166.1 146.5,167.0 150.5,168.9 154.5,170.2 158.5,171.1 162.5,171.0 166.5,170.8 170.5,171.2 174.5,171.9 178.5,173.3 182.5,175.6 186.5,179.4 190.5,183.8 194.5,188.3 198.5,192.6 202.5,197.2 206.5,202.9 210.5,207.7 214.5,212.6 218.5,214.6 222.5,216.5 226.5,217.3 230.5,218.6 234.5,218.5 238.5,218.8 242.5,218.8 246.5,219.3 250.5,221.4 254.5,224.4 258.5,227.3 262.5,230.5 266.5,233.4 270.5,235.6 274.5,238.1 278.5,240.6 282.5,241.9 286.5,243.4 290.5,245.2 294.5,246.3 298.5,247.4 302.5,249.2 306.5,251.6 310.5,254.3 314.5,257.5 318.5,260.8 322.5,262.8 326.5,263.2 330.5,264.5 334.5,265.9 338.5,268.4 342.5,271.2 346.5,275.4 350.5,277.9 354.5,280.6 358.5,283.1 362.5,286.9 366.5,289.0 370.5,290.6 374.5,291.6 378.5,293.1 382.5,294.6 386.5,296.6 390.5,298.2 394.5,300.8 398.5,303.5 402.5,307.2 406.5,310.9 410.5,314.7 414.5,317.7 418.5,320.1 422.5,321.3 426.5,321.5 430.5,321.4 434.5,321.1 438.5,321.3 442.5,322.1 446.5,322.5 450.5,322.6 454.5,322.3 458.5,322.9 462.5,323.0 466.5,321.7 470.5,320.7 474.5,319.2 478.5,317.5 482.5,315.0 486.5,313.5 490.5,312.3 494.5,311.4 498.5,310.0 502.5,308.9 506.5,307.0 510.5,304.9 514.5,301.8 518.5,297.8 522.5,293.7 526.5,289.6 530.5,285.0 534.5,282.4 538.5,280.2 542.5,279.2 546.5,278.3 550.5,277.6 554.5,276.7 558.5,275.6 562.5,275.1 566.5,275.3 570.5,275.1 574.5,274.9 578.5,273.9 582.5,273.1 586.5,273.3 590.5,274.2 594.5,276.5 598.5,279.0 602.5,281.4 606.5,283.7 610.5,286.0 614.5,287.6 618.5,288.6 622.5,289.7 626.5,290.1 630.5,290.8 634.5,291.4 638.5,292.5 642.5,294.7 646.5,296.7 650.5,298.2 654.5,297.9 658.5,297.7 662.5,296.5 666.5,294.4 670.5,292.5 674.5,290.7 678.5,288.1 682.5,286.0 686.5,283.9 690.5,283.3 694.5,283.0 698.5,282.9 702.5,282.7 706.5,282.4 710.5,282.0 714.5,279.6 718.5,276.7 722.5,273.3 726.5,269.4 730.5,265.5 734.5,261.9 738.5,259.4 742.5,256.7 746.5,254.5 750.5,253.5 754.5,252.9 758.5,252.7 762.5,251.6 766.5,250.4 770.5,249.3 774.5,248.8 778.5,247.5 782.5,247.1 786.5,247.9 790.5,248.4 794.5,249.4 798.5,250.5 802.5,251.4 806.5,252.7 810.5,253.8 814.5,254.5 818.5,255.9 822.5,257.5 826.5,259.1 830.5,260.3 834.5,261.7 838.5,263.4 842.5,266.2 846.5,269.6 850.5,273.5 854.5,277.6 858.5,281.3 862.5,285.2 866.5,290.0 870.5,294.1 874.5,298.2 878.5,302.9 882.5,307.8 886.5,312.9 890.5,318.4 894.5,323.8 898.5,330.4 902.5,336.6 906.5,340.9 910.5,345.2 914.5,349.3 918.5,353.5 922.5,357.3 926.5,358.4 930.5,358.7 934.5,358.7 938.5,356.5 942.5,353.2 946.5,350.7 950.5,347.9 954.5,343.7 958.5,339.6 962.5,332.9 966.5,327.4 970.5,322.3 974.5,320.3 978.5,318.4 982.5,316.3 986.5,312.4 990.5,311.3 994.5,312.5 998.5,315.2 1002.5,318.2 1006.5,321.5 1010.5,322.7 1014.5,323.2 1018.5,322.3 1022.5,318.2 1026.5,314.5 1030.5,310.0 1034.5,307.1 1038.5,304.4 1042.5,303.2 1046.5,305.5 1050.5,309.3 1054.5,313.3 1058.5,319.2 1062.5,324.6 1066.5,329.6 1070.5,334.4 1074.5,340.9 1078.5,348.0 1082.5,357.3 1086.5,364.0 1090.5,370.7 1094.5,375.1 1098.5,378.3 1102.5,382.0 1106.5,386.8 1110.5,389.1 1114.5,389.1 1118.5,387.0 1122.5,384.9 1126.5,382.4 1130.5,381.1 1134.5,380.4 1138.5,380.1 1142.5,381.8 1146.5,382.9 1150.5,385.2 1154.5,387.2 1158.5,390.1 1162.5,392.4 1166.5,393.2 1170.5,391.8 1174.5,391.2 1178.5,391.0 1182.5,391.2 1186.5,391.6 1190.5,394.0 1194.5,396.3 1198.5,398.5 1202.5,398.5 1206.5,399.1 1210.5,398.7" fill="none" stroke="#0000ff" stroke-width="1" shape-rendering="crispEdges"/>
<polyline points="6.5,226.5 10.5,223.8 14.5,219.1 18.5,213.2 22.5,206.7 26.5,201.4 30.5,195.9 34.5,190.7 38.5,186.9 42.5,185.3 46.5,183.8 50.5,181.0 54.5,179.9 58.5,178.0 62.5,176.2 66.5,172.8 70.5,169.9 74.5,167.4 78.5,165.7 82.5,162.7 86.5,160.5 90.5,157.9 94.5,153.9 98.5,150.3 102.5,146.5 106.5,144.9 110.5,141.3 114.5,141.3 118.5,143.6 122.5,148.3 126.5,154.6 130.5,159.7 134.5,164.5 138.5,169.8 142.5,173.6 146.5,178.1 150.5,184.6 154.5,187.5 158.5,190.4 162.5,192.6 166.5,195.4 170.5,195.5 174.5,198.1 178.5,200.8 182.5,202.9 186.5,208.2 190.5,213.6 194.5,217.8 198.5,222.7 202.5,227.5 206.5,233.4 210.5,238.1 214.5,242.7 218.5,243.5 222.5,244.5 226.5,243.6 230.5,241.3 234.5,238.2 238.5,236.2 242.5,232.7 246.5,230.5 250.5,230.5 254.5,232.4 258.5,234.3 262.5,232.8 266.5,233.3 270.5,234.0 274.5,238.0 278.5,242.0 282.5,245.5 286.5,248.5 290.5,252.7 294.5,257.1 298.5,262.1 302.5,266.9 306.5,273.0 310.5,277.8 314.5,282.5 318.5,287.6 322.5,290.5 326.5,292.6 330.5,294.6 334.5,296.8 338.5,300.2 342.5,304.0 346.5,308.3 350.5,309.0 354.5,309.3 358.5,308.9 362.5,308.3 366.5,305.0 370.5,301.6 374.5,298.4 378.5,299.2 382.5,300.0 386.5,302.2 390.5,303.1 394.5,307.4 398.5,311.3 402.5,313.7 406.5,319.0 410.5,325.8 414.5,331.1 418.5,333.3 422.5,336.0 426.5,339.2 430.5,341.7 434.5,342.5 438.5,344.8 442.5,345.2 446.5,344.7 450.5,341.2 454.5,337.1 458.5,333.9 462.5,330.1 466.5,323.2 470.5,315.6 474.5,307.5 478.5,300.9 482.5,294.2 486.5,288.0 490.5,282.8 494.5,277.2 498.5,273.2 502.5,270.9 506.5,268.8 510.5,265.9 514.5,262.0 518.5,257.3 522.5,253.7 526.5,252.4 530.5,252.5 534.5,256.0 538.5,258.7 542.5,262.3 546.5,266.2 550.5,269.3 554.5,271.0 558.5,273.5 562.5,276.9 566.5,281.3 570.5,284.1 574.5,288.0 578.5,291.5 582.5,294.7 586.5,298.1 590.5,297.9 594.5,299.6 598.5,300.4 602.5,300.8 606.5,301.2 610.5,302.7 614.5,302.9 618.5,302.2 622.5,301.7 626.5,300.9 630.5,299.9 634.5,299.6 638.5,299.0 642.5,299.6 646.5,300.5 650.5,299.1 654.5,296.5 658.5,293.7 662.5,289.6 666.5,284.2 670.5,279.8 674.5,275.5 678.5,270.0 682.5,267.9 686.5,266.6 690.5,266.7 694.5,267.6 698.5,266.2 702.5,264.8 706.5,264.2 710.5,263.9 714.5,260.8 718.5,258.2 722.5,255.7 726.5,251.7 730.5,248.6 734.5,246.8 738.5,245.2 742.5,243.3 746.5,239.3 750.5,236.5 754.5,235.2 758.5,234.7 762.5,233.7 766.5,232.9 770.5,234.1 774.5,236.6 778.5,238.5 782.5,241.7 786.5,246.5 790.5,251.0 794.5,254.1 798.5,256.7 802.5,261.2 806.5,264.9 810.5,268.7 814.5,271.5 818.5,275.4 822.5,280.1 826.5,285.2 830.5,288.5 834.5,291.3 838.5,293.2 842.5,294.9 846.5,297.0 850.5,300.1 854.5,305.0 858.5,309.3 862.5,313.0 866.5,316.9 870.5,321.4 874.5,325.9 878.5,331.9 882.5,338.0 886.5,345.7 890.5,355.5 894.5,366.0 898.5,376.2 902.5,385.3 906.5,391.1 910.5,395.6 914.5,399.8 918.5,403.2 922.5,405.4 926.5,402.7 930.5,398.3 934.5,391.0 938.5,379.8 942.5,366.5 946.5,354.4 950.5,340.0 954.5,319.7 958.5,299.6 962.5,277.7 966.5,258.8 970.5,242.3 974.5,233.9 978.5,225.9 982.5,222.6 986.5,217.6 990.5,219.9 994.5,231.7 998.5,250.4 1002.5,268.3 1006.5,289.2 1010.5,310.5 1014.5,330.9 1018.5,353.6 1022.5,365.8 1026.5,374.4 1030.5,373.5 1034.5,375.5 1038.5,377.8 1042.5,385.8 1046.5,390.1 1050.5,391.4 1054.5,387.0 1058.5,382.1 1062.5,373.1 1066.5,369.2 1070.5,364.0 1074.5,359.6 1078.5,363.3 1082.5,369.4 1086.5,374.5 1090.5,378.6 1094.5,385.3 1098.5,386.9 1102.5,386.6 1106.5,383.7 1110.5,382.2 1114.5,381.4 1118.5,384.2 1122.5,386.8 1126.5,392.0 1130.5,396.6 1134.5,400.4 1138.5,402.4 1142.5,403.9 1146.5,400.7 1150.5,395.3 1154.5,394.5 1158.5,395.0 1162.5,397.6 1166.5,398.9 1170.5,397.1 1174.5,395.9 1178.5,395.1 1182.5,392.0 1186.5,391.5 1190.5,393.0 1194.5,394.5 1198.5,399.1 1202.5,402.8 1206.5,404.3 1210.5,403.2" fill="none" stroke="#ff0000" stroke-width="1" shape-rendering="crispEdges"/>
<polyline points="6.5,225.0 10.5,216.4 14.5,202.1 18.5,184.4 22.5,165.0 26.5,157.2 30.5,149.3 34.5,147.9 38.5,153.6 42.5,167.6 46.5,179.0 50.5,187.9 54.5,200.3 58.5,206.9 62.5,199.3 66.5,185.7 70.5,170.9 74.5,149.4 78.5,130.8 82.5,119.4 86.5,114.8 90.5,114.3 94.5,115.7 98.5,124.2 102.5,133.8 106.5,144.2 110.5,153.6 114.5,171.6 118.5,180.7 122.5,190.8 126.5,198.0 130.5,201.2 134.5,195.7 138.5,192.7 142.5,185.6 146.5,180.1 150.5,185.4 154.5,188.8 158.5,191.5 162.5,197.4 166.5,202.1 170.5,201.9 174.5,210.4 178.5,219.9 182.5,226.8 186.5,237.2 190.5,246.6 194.5,247.9 198.5,246.9 202.5,249.1 206.5,255.7 210.5,257.2 214.5,261.0 218.5,255.7 222.5,249.6 226.5,230.5 230.5,219.5 234.5,207.3 238.5,206.3 242.5,204.1 246.5,210.0 250.5,217.7 254.5,230.9 258.5,243.7 262.5,256.1 266.5,265.1 270.5,270.7 274.5,271.2 278.5,271.3 282.5,266.0 286.5,262.0 290.5,259.6 294.5,259.8 298.5,260.3 302.5,270.0 306.5,286.2 310.5,301.1 314.5,314.8 318.5,327.5 322.5,331.0 326.5,325.7 330.5,318.3 334.5,311.5 338.5,301.4 342.5,299.8 346.5,303.5 350.5,300.2 354.5,295.2 358.5,294.3 362.5,298.1 366.5,291.9 370.5,293.9 374.5,297.0 378.5,303.8 382.5,302.5 386.5,310.4 390.5,315.9 394.5,326.5 398.5,333.8 402.5,342.0 406.5,347.4 410.5,358.8 414.5,360.8 418.5,359.5 422.5,354.1 426.5,350.3 430.5,341.4 434.5,335.6 438.5,334.9 442.5,336.3 446.5,331.4 450.5,325.1 454.5,318.7 458.5,311.3 462.5,305.1 466.5,298.6 470.5,289.0 474.5,276.7 478.5,261.7 482.5,249.8 486.5,242.9 490.5,243.8 494.5,250.1 498.5,258.9 502.5,266.3 506.5,271.2 510.5,271.4 514.5,268.7 518.5,260.6 522.5,250.5 526.5,243.2 530.5,239.3 534.5,244.9 538.5,253.5 542.5,266.9 546.5,282.4 550.5,296.9 554.5,300.9 558.5,307.8 562.5,311.9 566.5,313.8 570.5,310.4 574.5,308.3 578.5,300.8 582.5,293.2 586.5,286.3 590.5,283.5 594.5,286.0 598.5,292.1 602.5,299.5 606.5,305.7 610.5,314.3 614.5,317.0 618.5,316.7 622.5,316.1 626.5,309.4 630.5,300.3 634.5,291.5 638.5,284.3 642.5,280.6 646.5,282.5 650.5,283.7 654.5,283.5 658.5,284.9 662.5,277.5 666.5,268.5 670.5,263.0 674.5,257.9 678.5,249.7 682.5,248.8 686.5,251.1 690.5,254.9 694.5,262.2 698.5,269.9 702.5,273.8 706.5,277.1 710.5,275.6 714.5,265.6 718.5,255.1 722.5,243.0 726.5,227.8 730.5,215.2 734.5,210.5 738.5,212.6 742.5,216.3 746.5,220.1 750.5,228.3 754.5,237.6 758.5,244.2 762.5,250.2 766.5,257.8 770.5,258.9 774.5,258.8 778.5,253.6 782.5,250.4 786.5,253.3 790.5,257.7 794.5,261.7 798.5,267.5 802.5,274.6 806.5,279.8 810.5,287.2 814.5,292.8 818.5,302.3 822.5,310.7 826.5,315.8 830.5,314.5 834.5,309.0 838.5,300.4 842.5,294.7 846.5,290.6 850.5,294.2 854.5,305.9 858.5,319.6 862.5,330.5 866.5,342.9 870.5,352.4 874.5,361.1 878.5,373.9 882.5,385.7 886.5,395.0 890.5,404.4 894.5,412.5 898.5,418.8 902.5,423.2 906.5,421.4 910.5,418.2 914.5,414.3 918.5,406.0 922.5,399.3 926.5,384.9 930.5,368.4 934.5,349.3 938.5,320.2 942.5,285.9 946.5,269.2 950.5,249.4 954.5,219.2 958.5,198.8 962.5,172.7 966.5,150.7 970.5,140.7 974.5,165.6 978.5,192.8 982.5,230.7 986.5,252.9 990.5,286.7 994.5,314.0 998.5,354.6 1002.5,397.2 1006.5,449.8 1010.5,472.8 1014.5,476.6 1018.5,461.6 1022.5,423.6 1026.5,379.4 1030.5,342.0 1034.5,317.7 1038.5,298.3 1042.5,308.9 1046.5,330.7 1050.5,364.2 1054.5,386.9 1058.5,409.4 1062.5,414.5 1066.5,414.1 1070.5,399.7 1074.5,384.9 1078.5,371.1 1082.5,368.9 1086.5,357.1 1090.5,358.6 1094.5,370.3 1098.5,374.9 1102.5,379.0 1106.5,389.8 1110.5,397.2 1114.5,398.5 1118.5,406.9 1122.5,414.6 1126.5,423.0 1130.5,425.1 1134.5,424.3 1138.5,419.8 1142.5,405.0 1146.5,382.9 1150.5,366.7 1154.5,358.4 1158.5,358.2 1162.5,372.2 1166.5,392.1 1170.5,403.3 1174.5,410.8 1178.5,415.0 1182.5,407.3 1186.5,404.5 1190.5,412.8 1194.5,415.8 1198.5,416.1 1202.5,413.0 1206.5,402.6 1210.5,387.0" fill="none" stroke="#ffa500" stroke-width="1" shape-rendering="crispEdges"/>
</g>
<rect x="6" y="156" width="1516" height="2" fill="#ff0000"/>
<rect x="6" y="212" width="1516" height="2" fill="#ff0000"/>
<rect x="6" y="266" width="1516" height="2" fill="#ff0000"/>
<rect x="6" y="321" width="1516" height="2" fill="#ff0000"/>
<rect x="6" y="386" width="1516" height="2" fill="#00ff00"/>
<rect x="6" y="447" width="1516" height="2" fill="#0000ff"/>
<rect x="6" y="523" width="1516" height="2" fill="#0000ff"/>
<rect x="1522" y="34" width="2" height="1" fill="#000"/>
<text x="1527.5" y="38" font-size="10" fill="#000" stroke="#000" stroke-width="0.12" textLength="32.5" lengthAdjust="spacingAndGlyphs" text-anchor="start">1.15280</text>
<rect x="1522" y="67" width="2" height="1" fill="#000"/>
<text x="1527.5" y="71" font-size="10" fill="#000" stroke="#000" stroke-width="0.12" textLength="32.5" lengthAdjust="spacingAndGlyphs" text-anchor="start">1.14680</text>
<rect x="1522" y="100" width="2" height="1" fill="#000"/>
<text x="1527.5" y="104" font-size="10" fill="#000" stroke="#000" stroke-width="0.12" textLength="32.5" lengthAdjust="spacingAndGlyphs" text-anchor="start">1.14065</text>
<rect x="1522" y="133" width="2" height="1" fill="#000"/>
<text x="1527.5" y="137" font-size="10" fill="#000" stroke="#000" stroke-width="0.12" textLength="32.5" lengthAdjust="spacingAndGlyphs" text-anchor="start">1.13465</text>
<rect x="1522" y="166" width="2" height="1" fill="#000"/>
<text x="1527.5" y="170" font-size="10" fill="#000" stroke="#000" stroke-width="0.12" textLength="32.5" lengthAdjust="spacingAndGlyphs" text-anchor="start">1.12865</text>
<rect x="1522" y="199" width="2" height="1" fill="#000"/>
<text x="1527.5" y="203" font-size="10" fill="#000" stroke="#000" stroke-width="0.12" textLength="32.5" lengthAdjust="spacingAndGlyphs" text-anchor="start">1.12250</text>
<rect x="1522" y="232" width="2" height="1" fill="#000"/>
<text x="1527.5" y="236" font-size="10" fill="#000" stroke="#000" stroke-width="0.12" textLength="32.5" lengthAdjust="spacingAndGlyphs" text-anchor="start">1.11650</text>
<rect x="1522" y="265" width="2" height="1" fill="#000"/>
<text x="1527.5" y="269" font-size="10" fill="#000" stroke="#000" stroke-width="0.12" textLength="32.5" lengthAdjust="spacingAndGlyphs" text-anchor="start">1.11035</text>
<rect x="1522" y="298" width="2" height="1" fill="#000"/>
<text x="1527.5" y="302" font-size="10" fill="#000" stroke="#000" stroke-width="0.12" textLength="32.5" lengthAdjust="spacingAndGlyphs" text-anchor="start">1.10435</text>
<rect x="1522" y="331" width="2" height="1" fill="#000"/>
<text x="1527.5" y="335" font-size="10" fill="#000" stroke="#000" stroke-width="0.12" textLength="32.5" lengthAdjust="spacingAndGlyphs" text-anchor="start">1.09835</text>
<rect x="1522" y="364" width="2" height="1" fill="#000"/>
<text x="1527.5" y="368" font-size="10" fill="#000" stroke="#000" stroke-width="0.12" textLength="32.5" lengthAdjust="spacingAndGlyphs" text-anchor="start">1.09235</text>
<rect x="1522" y="397" width="2" height="1" fill="#000"/>
<text x="1527.5" y="401" font-size="10" fill="#000" stroke="#000" stroke-width="0.12" textLength="32.5" lengthAdjust="spacingAndGlyphs" text-anchor="start">1.08620</text>
<rect x="1522" y="430" width="2" height="1" fill="#000"/>
<text x="1527.5" y="434" font-size="10" fill="#000" stroke="#000" stroke-width="0.12" textLength="32.5" lengthAdjust="spacingAndGlyphs" text-anchor="start">1.08020</text>
<rect x="1522" y="463" width="2" height="1" fill="#000"/>
<text x="1527.5" y="467" font-size="10" fill="#000" stroke="#000" stroke-width="0.12" textLength="32.5" lengthAdjust="spacingAndGlyphs" text-anchor="start">1.07420</text>
<rect x="1522" y="496" width="2" height="1" fill="#000"/>
<text x="1527.5" y="500" font-size="10" fill="#000" stroke="#000" stroke-width="0.12" textLength="32.5" lengthAdjust="spacingAndGlyphs" text-anchor="start">1.06805</text>
<rect x="1522" y="529" width="2" height="1" fill="#000"/>
<text x="1527.5" y="533" font-size="10" fill="#000" stroke="#000" stroke-width="0.12" textLength="32.5" lengthAdjust="spacingAndGlyphs" text-anchor="start">1.06205</text>
<rect x="1523" y="151" width="38" height="11" fill="#ff0000"/>
<text x="1527.5" y="160" font-size="10" fill="#fff" stroke="#fff" stroke-width="0.12" textLength="32.5" lengthAdjust="spacingAndGlyphs" text-anchor="start">1.13034</text>
<rect x="1523" y="207" width="38" height="11" fill="#ff0000"/>
<text x="1527.5" y="216" font-size="10" fill="#fff" stroke="#fff" stroke-width="0.12" textLength="32.5" lengthAdjust="spacingAndGlyphs" text-anchor="start">1.12004</text>
<rect x="1523" y="261" width="38" height="11" fill="#ff0000"/>
<text x="1527.5" y="270" font-size="10" fill="#fff" stroke="#fff" stroke-width="0.12" textLength="32.5" lengthAdjust="spacingAndGlyphs" text-anchor="start">1.11009</text>
<rect x="1523" y="316" width="38" height="11" fill="#ff0000"/>
<text x="1527.5" y="325" font-size="10" fill="#fff" stroke="#fff" stroke-width="0.12" textLength="32.5" lengthAdjust="spacingAndGlyphs" text-anchor="start">1.10008</text>
<rect x="1523" y="381" width="38" height="11" fill="#00ff00"/>
<text x="1527.5" y="390" font-size="10" fill="#fff" stroke="#fff" stroke-width="0.12" textLength="32.5" lengthAdjust="spacingAndGlyphs" text-anchor="start">1.08800</text>
<rect x="1523" y="442" width="38" height="11" fill="#0000ff"/>
<text x="1527.5" y="451" font-size="10" fill="#fff" stroke="#fff" stroke-width="0.12" textLength="32.5" lengthAdjust="spacingAndGlyphs" text-anchor="start">1.07697</text>
<rect x="1523" y="518" width="38" height="11" fill="#0000ff"/>
<text x="1527.5" y="527" font-size="10" fill="#fff" stroke="#fff" stroke-width="0.12" textLength="32.5" lengthAdjust="spacingAndGlyphs" text-anchor="start">1.06306</text>
<rect x="1523" y="350" width="38" height="11" fill="#000000"/>
<text x="1527.5" y="359" font-size="10" fill="#fff" stroke="#fff" stroke-width="0.12" textLength="32.5" lengthAdjust="spacingAndGlyphs" text-anchor="start">1.09402</text>
<path d="M9,34 L16,34 L12.5,38 Z" fill="#000"/>
<text x="20.8" y="39" font-size="10" fill="#000" stroke="#000" stroke-width="0.12" textLength="63.2" lengthAdjust="spacingAndGlyphs" text-anchor="start">EURUSD,Daily</text>
<text x="91.3" y="39" font-size="10" fill="#000" stroke="#000" stroke-width="0.12" textLength="140.4" lengthAdjust="spacingAndGlyphs" text-anchor="start">1.09359 1.09533 1.09178 1.09402</text>
<path d="M1211.5,28 L1221.5,28 L1216.5,33 Z" fill="#c8c8c8"/>
<rect x="6" y="562" width="1515" height="1" fill="url(#dash)"/>
<defs><pattern id="dash" x="0" y="0" width="6" height="1" patternUnits="userSpaceOnUse"><rect x="0" y="0" width="3" height="1" fill="#c0c0c0"/></pattern></defs>
<rect x="6" y="598" width="1515" height="1" fill="url(#dash)"/>
<clipPath id="cr"><rect x="6" y="535" width="1515" height="91"/></clipPath>
<g clip-path="url(#cr)">
<polyline points="6.5,570.6 10.5,570.0 14.5,564.8 18.5,562.2 22.5,561.0 26.5,567.0 30.5,566.4 34.5,567.8 38.5,573.8 42.5,582.3 46.5,583.4 50.5,579.5 54.5,584.5 58.5,581.8 62.5,573.8 66.5,569.6 70.5,566.5 74.5,564.9 78.5,565.8 82.5,565.6 86.5,568.4 90.5,568.1 94.5,567.6 98.5,578.9 102.5,579.7 106.5,582.9 110.5,581.2 114.5,589.6 118.5,588.3 122.5,589.9 126.5,589.6 130.5,582.2 134.5,581.5 138.5,583.2 142.5,580.0 146.5,581.8 150.5,588.2 154.5,584.6 158.5,585.5 162.5,586.5 166.5,586.7 170.5,587.5 174.5,594.3 178.5,595.9 182.5,592.7 186.5,596.2 190.5,595.4 194.5,591.6 198.5,590.7 202.5,592.3 206.5,600.0 210.5,590.5 214.5,590.9 218.5,578.6 222.5,579.2 226.5,574.4 230.5,577.3 234.5,576.4 238.5,578.4 242.5,577.7 246.5,582.0 250.5,586.7 254.5,591.2 258.5,592.2 262.5,590.8 266.5,590.5 270.5,591.4 274.5,590.4 278.5,591.5 282.5,581.0 286.5,582.5 290.5,585.8 294.5,588.2 298.5,589.7 302.5,592.8 306.5,599.3 310.5,600.2 314.5,600.9 318.5,601.0 322.5,589.4 326.5,587.5 330.5,586.3 334.5,588.1 338.5,583.1 342.5,585.7 346.5,590.4 350.5,579.7 354.5,579.5 358.5,580.7 362.5,588.4 366.5,580.9 370.5,581.5 374.5,582.6 378.5,587.4 382.5,585.7 386.5,588.9 390.5,586.2 394.5,591.9 398.5,593.0 402.5,592.3 406.5,592.8 410.5,596.3 414.5,590.9 418.5,587.9 422.5,581.8 426.5,584.1 430.5,582.6 434.5,582.3 438.5,586.2 442.5,582.6 446.5,577.1 450.5,574.3 454.5,573.8 458.5,577.2 462.5,575.5 466.5,570.4 470.5,565.3 474.5,562.9 478.5,562.5 482.5,565.9 486.5,566.7 490.5,570.6 494.5,574.3 498.5,577.4 502.5,578.1 506.5,575.3 510.5,572.2 514.5,571.3 518.5,567.4 522.5,565.7 526.5,567.4 530.5,569.3 534.5,583.6 538.5,583.2 542.5,587.2 546.5,590.4 550.5,590.4 554.5,587.2 558.5,590.5 562.5,590.9 566.5,591.6 570.5,582.3 574.5,581.5 578.5,577.2 582.5,577.8 586.5,579.9 590.5,578.1 594.5,585.9 598.5,587.0 602.5,589.1 606.5,589.1 610.5,591.1 614.5,588.7 618.5,584.0 622.5,586.1 626.5,575.7 630.5,574.1 634.5,573.0 638.5,572.0 642.5,581.1 646.5,580.4 650.5,577.3 654.5,574.0 658.5,575.8 662.5,570.4 666.5,567.7 670.5,571.3 674.5,569.0 678.5,566.4 682.5,573.3 686.5,575.3 690.5,580.7 694.5,583.3 698.5,580.5 702.5,579.9 706.5,580.8 710.5,577.7 714.5,568.5 718.5,566.0 722.5,564.1 726.5,561.7 730.5,563.5 734.5,566.2 738.5,574.7 742.5,574.5 746.5,571.1 750.5,579.8 754.5,583.1 758.5,585.4 762.5,584.1 766.5,582.6 770.5,580.5 774.5,582.5 778.5,576.9 782.5,579.1 786.5,586.6 790.5,586.9 794.5,588.1 798.5,584.9 802.5,588.5 806.5,592.5 810.5,595.2 814.5,593.4 818.5,595.8 822.5,597.3 826.5,596.9 830.5,588.5 834.5,580.0 838.5,578.7 842.5,584.8 846.5,586.8 850.5,591.2 854.5,594.3 858.5,595.4 862.5,596.7 866.5,599.5 870.5,600.1 874.5,601.9 878.5,605.6 882.5,605.8 886.5,606.2 890.5,606.8 894.5,607.4 898.5,609.5 902.5,605.5 906.5,593.5 910.5,592.8 914.5,592.8 918.5,591.1 922.5,591.1 926.5,571.0 930.5,568.6 934.5,566.2 938.5,558.8 942.5,556.2 946.5,562.6 950.5,559.6 954.5,554.3 958.5,554.0 962.5,550.8 966.5,560.3 970.5,566.3 974.5,581.4 978.5,582.1 982.5,582.0 986.5,577.7 990.5,587.2 994.5,593.2 998.5,597.6 1002.5,598.1 1006.5,598.9 1010.5,591.6 1014.5,589.4 1018.5,587.0 1022.5,577.0 1026.5,575.7 1030.5,573.8 1034.5,578.4 1038.5,578.7 1042.5,582.9 1046.5,586.2 1050.5,588.9 1054.5,588.0 1058.5,588.3 1062.5,583.2 1066.5,584.4 1070.5,580.4 1074.5,579.3 1078.5,580.2 1082.5,582.0 1086.5,577.7 1090.5,581.4 1094.5,585.9 1098.5,582.4 1102.5,583.8 1106.5,583.5 1110.5,585.1 1114.5,586.4 1118.5,587.4 1122.5,588.4 1126.5,588.6 1130.5,585.2 1134.5,584.5 1138.5,582.6 1142.5,575.4 1146.5,570.6 1150.5,572.9 1154.5,579.0 1158.5,583.5 1162.5,587.2 1166.5,586.2 1170.5,581.0 1174.5,583.4 1178.5,585.4 1182.5,580.3 1186.5,583.1 1190.5,586.3 1194.5,584.6 1198.5,584.8 1202.5,576.8 1206.5,574.4 1210.5,574.1" fill="none" stroke="#1e90ff" stroke-width="1" shape-rendering="crispEdges"/>
</g>
<text x="10.3" y="547" font-size="10" fill="#000" stroke="#000" stroke-width="0.12" textLength="67.2" lengthAdjust="spacingAndGlyphs" text-anchor="start">RSI(14) 57.9742</text>
<rect x="1522" y="536" width="2" height="1" fill="#000"/>
<text x="1525.5" y="545" font-size="10" fill="#000" stroke="#000" stroke-width="0.12" textLength="15.2" lengthAdjust="spacingAndGlyphs" text-anchor="start">100</text>
<rect x="1522" y="562" width="2" height="1" fill="#000"/>
<text x="1525.5" y="567" font-size="10" fill="#000" stroke="#000" stroke-width="0.12" textLength="10.1" lengthAdjust="spacingAndGlyphs" text-anchor="start">70</text>
<rect x="1522" y="598" width="2" height="1" fill="#000"/>
<text x="1525.5" y="602.5" font-size="10" fill="#000" stroke="#000" stroke-width="0.12" textLength="10.1" lengthAdjust="spacingAndGlyphs" text-anchor="start">30</text>
<rect x="1522" y="625" width="2" height="1" fill="#000"/>
<text x="1525.5" y="623" font-size="10" fill="#000" stroke="#000" stroke-width="0.12" textLength="5.1" lengthAdjust="spacingAndGlyphs" text-anchor="start">0</text>
<g shape-rendering="crispEdges">
<rect x="6" y="680" width="1" height="2" fill="#c0c0c0"/>
<rect x="10" y="680" width="1" height="1" fill="#c0c0c0"/>
<rect x="14" y="676" width="1" height="5" fill="#c0c0c0"/>
<rect x="18" y="672" width="1" height="9" fill="#c0c0c0"/>
<rect x="22" y="669" width="1" height="12" fill="#c0c0c0"/>
<rect x="26" y="667" width="1" height="14" fill="#c0c0c0"/>
<rect x="30" y="666" width="1" height="15" fill="#c0c0c0"/>
<rect x="34" y="666" width="1" height="15" fill="#c0c0c0"/>
<rect x="38" y="667" width="1" height="14" fill="#c0c0c0"/>
<rect x="42" y="670" width="1" height="11" fill="#c0c0c0"/>
<rect x="46" y="672" width="1" height="9" fill="#c0c0c0"/>
<rect x="50" y="674" width="1" height="7" fill="#c0c0c0"/>
<rect x="54" y="676" width="1" height="5" fill="#c0c0c0"/>
<rect x="58" y="677" width="1" height="4" fill="#c0c0c0"/>
<rect x="62" y="676" width="1" height="5" fill="#c0c0c0"/>
<rect x="66" y="673" width="1" height="8" fill="#c0c0c0"/>
<rect x="70" y="670" width="1" height="11" fill="#c0c0c0"/>
<rect x="74" y="667" width="1" height="14" fill="#c0c0c0"/>
<rect x="78" y="664" width="1" height="17" fill="#c0c0c0"/>
<rect x="82" y="663" width="1" height="18" fill="#c0c0c0"/>
<rect x="86" y="662" width="1" height="19" fill="#c0c0c0"/>
<rect x="90" y="662" width="1" height="19" fill="#c0c0c0"/>
<rect x="94" y="662" width="1" height="19" fill="#c0c0c0"/>
<rect x="98" y="664" width="1" height="17" fill="#c0c0c0"/>
<rect x="102" y="667" width="1" height="14" fill="#c0c0c0"/>
<rect x="106" y="670" width="1" height="11" fill="#c0c0c0"/>
<rect x="110" y="672" width="1" height="9" fill="#c0c0c0"/>
<rect x="114" y="676" width="1" height="5" fill="#c0c0c0"/>
<rect x="118" y="679" width="1" height="2" fill="#c0c0c0"/>
<rect x="122" y="680" width="1" height="2" fill="#c0c0c0"/>
<rect x="126" y="680" width="1" height="4" fill="#c0c0c0"/>
<rect x="130" y="680" width="1" height="4" fill="#c0c0c0"/>
<rect x="134" y="680" width="1" height="4" fill="#c0c0c0"/>
<rect x="138" y="680" width="1" height="4" fill="#c0c0c0"/>
<rect x="142" y="680" width="1" height="4" fill="#c0c0c0"/>
<rect x="146" y="680" width="1" height="4" fill="#c0c0c0"/>
<rect x="150" y="680" width="1" height="5" fill="#c0c0c0"/>
<rect x="154" y="680" width="1" height="6" fill="#c0c0c0"/>
<rect x="158" y="680" width="1" height="6" fill="#c0c0c0"/>
<rect x="162" y="680" width="1" height="7" fill="#c0c0c0"/>
<rect x="166" y="680" width="1" height="7" fill="#c0c0c0"/>
<rect x="170" y="680" width="1" height="8" fill="#c0c0c0"/>
<rect x="174" y="680" width="1" height="10" fill="#c0c0c0"/>
<rect x="178" y="680" width="1" height="12" fill="#c0c0c0"/>
<rect x="182" y="680" width="1" height="13" fill="#c0c0c0"/>
<rect x="186" y="680" width="1" height="15" fill="#c0c0c0"/>
<rect x="190" y="680" width="1" height="16" fill="#c0c0c0"/>
<rect x="194" y="680" width="1" height="16" fill="#c0c0c0"/>
<rect x="198" y="680" width="1" height="16" fill="#c0c0c0"/>
<rect x="202" y="680" width="1" height="16" fill="#c0c0c0"/>
<rect x="206" y="680" width="1" height="19" fill="#c0c0c0"/>
<rect x="210" y="680" width="1" height="19" fill="#c0c0c0"/>
<rect x="214" y="680" width="1" height="19" fill="#c0c0c0"/>
<rect x="218" y="680" width="1" height="15" fill="#c0c0c0"/>
<rect x="222" y="680" width="1" height="12" fill="#c0c0c0"/>
<rect x="226" y="680" width="1" height="9" fill="#c0c0c0"/>
<rect x="230" y="680" width="1" height="6" fill="#c0c0c0"/>
<rect x="234" y="680" width="1" height="4" fill="#c0c0c0"/>
<rect x="238" y="680" width="1" height="3" fill="#c0c0c0"/>
<rect x="242" y="680" width="1" height="2" fill="#c0c0c0"/>
<rect x="246" y="680" width="1" height="2" fill="#c0c0c0"/>
<rect x="250" y="680" width="1" height="4" fill="#c0c0c0"/>
<rect x="254" y="680" width="1" height="6" fill="#c0c0c0"/>
<rect x="258" y="680" width="1" height="9" fill="#c0c0c0"/>
<rect x="262" y="680" width="1" height="10" fill="#c0c0c0"/>
<rect x="266" y="680" width="1" height="11" fill="#c0c0c0"/>
<rect x="270" y="680" width="1" height="12" fill="#c0c0c0"/>
<rect x="274" y="680" width="1" height="12" fill="#c0c0c0"/>
<rect x="278" y="680" width="1" height="13" fill="#c0c0c0"/>
<rect x="282" y="680" width="1" height="11" fill="#c0c0c0"/>
<rect x="286" y="680" width="1" height="10" fill="#c0c0c0"/>
<rect x="290" y="680" width="1" height="10" fill="#c0c0c0"/>
<rect x="294" y="680" width="1" height="10" fill="#c0c0c0"/>
<rect x="298" y="680" width="1" height="11" fill="#c0c0c0"/>
<rect x="302" y="680" width="1" height="12" fill="#c0c0c0"/>
<rect x="306" y="680" width="1" height="15" fill="#c0c0c0"/>
<rect x="310" y="680" width="1" height="18" fill="#c0c0c0"/>
<rect x="314" y="680" width="1" height="20" fill="#c0c0c0"/>
<rect x="318" y="680" width="1" height="22" fill="#c0c0c0"/>
<rect x="322" y="680" width="1" height="21" fill="#c0c0c0"/>
<rect x="326" y="680" width="1" height="20" fill="#c0c0c0"/>
<rect x="330" y="680" width="1" height="18" fill="#c0c0c0"/>
<rect x="334" y="680" width="1" height="17" fill="#c0c0c0"/>
<rect x="338" y="680" width="1" height="15" fill="#c0c0c0"/>
<rect x="342" y="680" width="1" height="14" fill="#c0c0c0"/>
<rect x="346" y="680" width="1" height="14" fill="#c0c0c0"/>
<rect x="350" y="680" width="1" height="12" fill="#c0c0c0"/>
<rect x="354" y="680" width="1" height="10" fill="#c0c0c0"/>
<rect x="358" y="680" width="1" height="8" fill="#c0c0c0"/>
<rect x="362" y="680" width="1" height="9" fill="#c0c0c0"/>
<rect x="366" y="680" width="1" height="8" fill="#c0c0c0"/>
<rect x="370" y="680" width="1" height="7" fill="#c0c0c0"/>
<rect x="374" y="680" width="1" height="7" fill="#c0c0c0"/>
<rect x="378" y="680" width="1" height="8" fill="#c0c0c0"/>
<rect x="382" y="680" width="1" height="8" fill="#c0c0c0"/>
<rect x="386" y="680" width="1" height="9" fill="#c0c0c0"/>
<rect x="390" y="680" width="1" height="9" fill="#c0c0c0"/>
<rect x="394" y="680" width="1" height="11" fill="#c0c0c0"/>
<rect x="398" y="680" width="1" height="13" fill="#c0c0c0"/>
<rect x="402" y="680" width="1" height="14" fill="#c0c0c0"/>
<rect x="406" y="680" width="1" height="15" fill="#c0c0c0"/>
<rect x="410" y="680" width="1" height="17" fill="#c0c0c0"/>
<rect x="414" y="680" width="1" height="17" fill="#c0c0c0"/>
<rect x="418" y="680" width="1" height="17" fill="#c0c0c0"/>
<rect x="422" y="680" width="1" height="15" fill="#c0c0c0"/>
<rect x="426" y="680" width="1" height="13" fill="#c0c0c0"/>
<rect x="430" y="680" width="1" height="12" fill="#c0c0c0"/>
<rect x="434" y="680" width="1" height="10" fill="#c0c0c0"/>
<rect x="438" y="680" width="1" height="10" fill="#c0c0c0"/>
<rect x="442" y="680" width="1" height="9" fill="#c0c0c0"/>
<rect x="446" y="680" width="1" height="7" fill="#c0c0c0"/>
<rect x="450" y="680" width="1" height="4" fill="#c0c0c0"/>
<rect x="454" y="680" width="1" height="2" fill="#c0c0c0"/>
<rect x="458" y="680" width="1" height="1" fill="#c0c0c0"/>
<rect x="462" y="680" width="1" height="1" fill="#c0c0c0"/>
<rect x="466" y="677" width="1" height="4" fill="#c0c0c0"/>
<rect x="470" y="674" width="1" height="7" fill="#c0c0c0"/>
<rect x="474" y="670" width="1" height="11" fill="#c0c0c0"/>
<rect x="478" y="667" width="1" height="14" fill="#c0c0c0"/>
<rect x="482" y="665" width="1" height="16" fill="#c0c0c0"/>
<rect x="486" y="664" width="1" height="17" fill="#c0c0c0"/>
<rect x="490" y="664" width="1" height="17" fill="#c0c0c0"/>
<rect x="494" y="665" width="1" height="16" fill="#c0c0c0"/>
<rect x="498" y="667" width="1" height="14" fill="#c0c0c0"/>
<rect x="502" y="669" width="1" height="12" fill="#c0c0c0"/>
<rect x="506" y="669" width="1" height="12" fill="#c0c0c0"/>
<rect x="510" y="669" width="1" height="12" fill="#c0c0c0"/>
<rect x="514" y="669" width="1" height="12" fill="#c0c0c0"/>
<rect x="518" y="668" width="1" height="13" fill="#c0c0c0"/>
<rect x="522" y="667" width="1" height="14" fill="#c0c0c0"/>
<rect x="526" y="666" width="1" height="15" fill="#c0c0c0"/>
<rect x="530" y="666" width="1" height="15" fill="#c0c0c0"/>
<rect x="534" y="669" width="1" height="12" fill="#c0c0c0"/>
<rect x="538" y="672" width="1" height="9" fill="#c0c0c0"/>
<rect x="542" y="675" width="1" height="6" fill="#c0c0c0"/>
<rect x="546" y="678" width="1" height="3" fill="#c0c0c0"/>
<rect x="550" y="680" width="1" height="1" fill="#c0c0c0"/>
<rect x="554" y="680" width="1" height="2" fill="#c0c0c0"/>
<rect x="558" y="680" width="1" height="4" fill="#c0c0c0"/>
<rect x="562" y="680" width="1" height="6" fill="#c0c0c0"/>
<rect x="566" y="680" width="1" height="7" fill="#c0c0c0"/>
<rect x="570" y="680" width="1" height="7" fill="#c0c0c0"/>
<rect x="574" y="680" width="1" height="6" fill="#c0c0c0"/>
<rect x="578" y="680" width="1" height="4" fill="#c0c0c0"/>
<rect x="582" y="680" width="1" height="3" fill="#c0c0c0"/>
<rect x="586" y="680" width="1" height="3" fill="#c0c0c0"/>
<rect x="590" y="680" width="1" height="2" fill="#c0c0c0"/>
<rect x="594" y="680" width="1" height="3" fill="#c0c0c0"/>
<rect x="598" y="680" width="1" height="4" fill="#c0c0c0"/>
<rect x="602" y="680" width="1" height="5" fill="#c0c0c0"/>
<rect x="606" y="680" width="1" height="6" fill="#c0c0c0"/>
<rect x="610" y="680" width="1" height="7" fill="#c0c0c0"/>
<rect x="614" y="680" width="1" height="8" fill="#c0c0c0"/>
<rect x="618" y="680" width="1" height="7" fill="#c0c0c0"/>
<rect x="622" y="680" width="1" height="7" fill="#c0c0c0"/>
<rect x="626" y="680" width="1" height="5" fill="#c0c0c0"/>
<rect x="630" y="680" width="1" height="3" fill="#c0c0c0"/>
<rect x="634" y="680" width="1" height="1" fill="#c0c0c0"/>
<rect x="638" y="680" width="1" height="1" fill="#c0c0c0"/>
<rect x="642" y="680" width="1" height="1" fill="#c0c0c0"/>
<rect x="646" y="680" width="1" height="1" fill="#c0c0c0"/>
<rect x="650" y="679" width="1" height="2" fill="#c0c0c0"/>
<rect x="654" y="678" width="1" height="3" fill="#c0c0c0"/>
<rect x="658" y="678" width="1" height="3" fill="#c0c0c0"/>
<rect x="662" y="676" width="1" height="5" fill="#c0c0c0"/>
<rect x="666" y="674" width="1" height="7" fill="#c0c0c0"/>
<rect x="670" y="673" width="1" height="8" fill="#c0c0c0"/>
<rect x="674" y="672" width="1" height="9" fill="#c0c0c0"/>
<rect x="678" y="671" width="1" height="10" fill="#c0c0c0"/>
<rect x="682" y="671" width="1" height="10" fill="#c0c0c0"/>
<rect x="686" y="671" width="1" height="10" fill="#c0c0c0"/>
<rect x="690" y="673" width="1" height="8" fill="#c0c0c0"/>
<rect x="694" y="675" width="1" height="6" fill="#c0c0c0"/>
<rect x="698" y="675" width="1" height="6" fill="#c0c0c0"/>
<rect x="702" y="676" width="1" height="5" fill="#c0c0c0"/>
<rect x="706" y="677" width="1" height="4" fill="#c0c0c0"/>
<rect x="710" y="677" width="1" height="4" fill="#c0c0c0"/>
<rect x="714" y="675" width="1" height="6" fill="#c0c0c0"/>
<rect x="718" y="673" width="1" height="8" fill="#c0c0c0"/>
<rect x="722" y="670" width="1" height="11" fill="#c0c0c0"/>
<rect x="726" y="668" width="1" height="13" fill="#c0c0c0"/>
<rect x="730" y="666" width="1" height="15" fill="#c0c0c0"/>
<rect x="734" y="666" width="1" height="15" fill="#c0c0c0"/>
<rect x="738" y="667" width="1" height="14" fill="#c0c0c0"/>
<rect x="742" y="668" width="1" height="13" fill="#c0c0c0"/>
<rect x="746" y="668" width="1" height="13" fill="#c0c0c0"/>
<rect x="750" y="670" width="1" height="11" fill="#c0c0c0"/>
<rect x="754" y="672" width="1" height="9" fill="#c0c0c0"/>
<rect x="758" y="674" width="1" height="7" fill="#c0c0c0"/>
<rect x="762" y="676" width="1" height="5" fill="#c0c0c0"/>
<rect x="766" y="677" width="1" height="4" fill="#c0c0c0"/>
<rect x="770" y="678" width="1" height="3" fill="#c0c0c0"/>
<rect x="774" y="679" width="1" height="2" fill="#c0c0c0"/>
<rect x="778" y="678" width="1" height="3" fill="#c0c0c0"/>
<rect x="782" y="678" width="1" height="3" fill="#c0c0c0"/>
<rect x="786" y="680" width="1" height="1" fill="#c0c0c0"/>
<rect x="790" y="680" width="1" height="2" fill="#c0c0c0"/>
<rect x="794" y="680" width="1" height="3" fill="#c0c0c0"/>
<rect x="798" y="680" width="1" height="3" fill="#c0c0c0"/>
<rect x="802" y="680" width="1" height="5" fill="#c0c0c0"/>
<rect x="806" y="680" width="1" height="7" fill="#c0c0c0"/>
<rect x="810" y="680" width="1" height="9" fill="#c0c0c0"/>
<rect x="814" y="680" width="1" height="10" fill="#c0c0c0"/>
<rect x="818" y="680" width="1" height="12" fill="#c0c0c0"/>
<rect x="822" y="680" width="1" height="14" fill="#c0c0c0"/>
<rect x="826" y="680" width="1" height="15" fill="#c0c0c0"/>
<rect x="830" y="680" width="1" height="14" fill="#c0c0c0"/>
<rect x="834" y="680" width="1" height="12" fill="#c0c0c0"/>
<rect x="838" y="680" width="1" height="10" fill="#c0c0c0"/>
<rect x="842" y="680" width="1" height="9" fill="#c0c0c0"/>
<rect x="846" y="680" width="1" height="9" fill="#c0c0c0"/>
<rect x="850" y="680" width="1" height="10" fill="#c0c0c0"/>
<rect x="854" y="680" width="1" height="12" fill="#c0c0c0"/>
<rect x="858" y="680" width="1" height="14" fill="#c0c0c0"/>
<rect x="862" y="680" width="1" height="15" fill="#c0c0c0"/>
<rect x="866" y="680" width="1" height="18" fill="#c0c0c0"/>
<rect x="870" y="680" width="1" height="19" fill="#c0c0c0"/>
<rect x="874" y="680" width="1" height="21" fill="#c0c0c0"/>
<rect x="878" y="680" width="1" height="24" fill="#c0c0c0"/>
<rect x="882" y="680" width="1" height="26" fill="#c0c0c0"/>
<rect x="886" y="680" width="1" height="28" fill="#c0c0c0"/>
<rect x="890" y="680" width="1" height="29" fill="#c0c0c0"/>
<rect x="894" y="680" width="1" height="30" fill="#c0c0c0"/>
<rect x="898" y="680" width="1" height="31" fill="#c0c0c0"/>
<rect x="902" y="680" width="1" height="32" fill="#c0c0c0"/>
<rect x="906" y="680" width="1" height="30" fill="#c0c0c0"/>
<rect x="910" y="680" width="1" height="28" fill="#c0c0c0"/>
<rect x="914" y="680" width="1" height="26" fill="#c0c0c0"/>
<rect x="918" y="680" width="1" height="24" fill="#c0c0c0"/>
<rect x="922" y="680" width="1" height="22" fill="#c0c0c0"/>
<rect x="926" y="680" width="1" height="16" fill="#c0c0c0"/>
<rect x="930" y="680" width="1" height="11" fill="#c0c0c0"/>
<rect x="934" y="680" width="1" height="5" fill="#c0c0c0"/>
<rect x="938" y="677" width="1" height="4" fill="#c0c0c0"/>
<rect x="942" y="670" width="1" height="11" fill="#c0c0c0"/>
<rect x="946" y="665" width="1" height="16" fill="#c0c0c0"/>
<rect x="950" y="660" width="1" height="21" fill="#c0c0c0"/>
<rect x="954" y="652" width="1" height="29" fill="#c0c0c0"/>
<rect x="958" y="646" width="1" height="35" fill="#c0c0c0"/>
<rect x="962" y="638" width="1" height="43" fill="#c0c0c0"/>
<rect x="966" y="635" width="1" height="46" fill="#c0c0c0"/>
<rect x="970" y="635" width="1" height="46" fill="#c0c0c0"/>
<rect x="974" y="643" width="1" height="38" fill="#c0c0c0"/>
<rect x="978" y="649" width="1" height="32" fill="#c0c0c0"/>
<rect x="982" y="655" width="1" height="26" fill="#c0c0c0"/>
<rect x="986" y="658" width="1" height="23" fill="#c0c0c0"/>
<rect x="990" y="666" width="1" height="15" fill="#c0c0c0"/>
<rect x="994" y="677" width="1" height="4" fill="#c0c0c0"/>
<rect x="998" y="680" width="1" height="11" fill="#c0c0c0"/>
<rect x="1002" y="680" width="1" height="22" fill="#c0c0c0"/>
<rect x="1006" y="680" width="1" height="31" fill="#c0c0c0"/>
<rect x="1010" y="680" width="1" height="35" fill="#c0c0c0"/>
<rect x="1014" y="680" width="1" height="36" fill="#c0c0c0"/>
<rect x="1018" y="680" width="1" height="35" fill="#c0c0c0"/>
<rect x="1022" y="680" width="1" height="27" fill="#c0c0c0"/>
<rect x="1026" y="680" width="1" height="19" fill="#c0c0c0"/>
<rect x="1030" y="680" width="1" height="11" fill="#c0c0c0"/>
<rect x="1034" y="680" width="1" height="8" fill="#c0c0c0"/>
<rect x="1038" y="680" width="1" height="6" fill="#c0c0c0"/>
<rect x="1042" y="680" width="1" height="6" fill="#c0c0c0"/>
<rect x="1046" y="680" width="1" height="10" fill="#c0c0c0"/>
<rect x="1050" y="680" width="1" height="14" fill="#c0c0c0"/>
<rect x="1054" y="680" width="1" height="17" fill="#c0c0c0"/>
<rect x="1058" y="680" width="1" height="20" fill="#c0c0c0"/>
<rect x="1062" y="680" width="1" height="18" fill="#c0c0c0"/>
<rect x="1066" y="680" width="1" height="18" fill="#c0c0c0"/>
<rect x="1070" y="680" width="1" height="15" fill="#c0c0c0"/>
<rect x="1074" y="680" width="1" height="12" fill="#c0c0c0"/>
<rect x="1078" y="680" width="1" height="10" fill="#c0c0c0"/>
<rect x="1082" y="680" width="1" height="9" fill="#c0c0c0"/>
<rect x="1086" y="680" width="1" height="7" fill="#c0c0c0"/>
<rect x="1090" y="680" width="1" height="6" fill="#c0c0c0"/>
<rect x="1094" y="680" width="1" height="8" fill="#c0c0c0"/>
<rect x="1098" y="680" width="1" height="8" fill="#c0c0c0"/>
<rect x="1102" y="680" width="1" height="9" fill="#c0c0c0"/>
<rect x="1106" y="680" width="1" height="9" fill="#c0c0c0"/>
<rect x="1110" y="680" width="1" height="10" fill="#c0c0c0"/>
<rect x="1114" y="680" width="1" height="11" fill="#c0c0c0"/>
<rect x="1118" y="680" width="1" height="13" fill="#c0c0c0"/>
<rect x="1122" y="680" width="1" height="14" fill="#c0c0c0"/>
<rect x="1126" y="680" width="1" height="16" fill="#c0c0c0"/>
<rect x="1130" y="680" width="1" height="15" fill="#c0c0c0"/>
<rect x="1134" y="680" width="1" height="14" fill="#c0c0c0"/>
<rect x="1138" y="680" width="1" height="13" fill="#c0c0c0"/>
<rect x="1142" y="680" width="1" height="9" fill="#c0c0c0"/>
<rect x="1146" y="680" width="1" height="3" fill="#c0c0c0"/>
<rect x="1150" y="680" width="1" height="1" fill="#c0c0c0"/>
<rect x="1154" y="679" width="1" height="2" fill="#c0c0c0"/>
<rect x="1158" y="680" width="1" height="1" fill="#c0c0c0"/>
<rect x="1162" y="680" width="1" height="4" fill="#c0c0c0"/>
<rect x="1166" y="680" width="1" height="6" fill="#c0c0c0"/>
<rect x="1170" y="680" width="1" height="5" fill="#c0c0c0"/>
<rect x="1174" y="680" width="1" height="6" fill="#c0c0c0"/>
<rect x="1178" y="680" width="1" height="7" fill="#c0c0c0"/>
<rect x="1182" y="680" width="1" height="6" fill="#c0c0c0"/>
<rect x="1186" y="680" width="1" height="6" fill="#c0c0c0"/>
<rect x="1190" y="680" width="1" height="8" fill="#c0c0c0"/>
<rect x="1194" y="680" width="1" height="8" fill="#c0c0c0"/>
<rect x="1198" y="680" width="1" height="9" fill="#c0c0c0"/>
<rect x="1202" y="680" width="1" height="6" fill="#c0c0c0"/>
<rect x="1206" y="680" width="1" height="2" fill="#c0c0c0"/>
<rect x="1210" y="680" width="1" height="1" fill="#c0c0c0"/>
</g>
<polyline points="6.5,683.7 10.5,683.3 14.5,682.4 18.5,681.1 22.5,679.5 26.5,677.6 30.5,675.6 34.5,673.5 38.5,671.5 42.5,670.1 46.5,669.3 50.5,669.1 54.5,669.5 58.5,670.5 62.5,671.5 66.5,672.3 70.5,672.8 74.5,672.8 78.5,672.3 82.5,671.2 86.5,669.9 90.5,668.3 94.5,666.6 98.5,665.3 102.5,664.5 106.5,664.5 110.5,665.1 114.5,666.4 118.5,668.2 122.5,670.4 126.5,672.9 130.5,675.4 134.5,677.6 138.5,679.5 142.5,681.1 146.5,682.4 150.5,683.4 154.5,684.1 158.5,684.6 162.5,684.9 166.5,685.2 170.5,685.6 174.5,686.3 178.5,687.2 182.5,688.3 186.5,689.4 190.5,690.6 194.5,691.7 198.5,692.8 202.5,693.8 206.5,695.0 210.5,696.0 214.5,696.7 218.5,696.9 222.5,696.6 226.5,695.7 230.5,694.6 234.5,693.3 238.5,691.8 242.5,690.0 246.5,688.1 250.5,686.5 254.5,685.5 258.5,685.1 262.5,685.2 266.5,685.7 270.5,686.6 274.5,687.6 278.5,688.8 282.5,689.8 286.5,690.5 290.5,690.9 294.5,691.1 298.5,691.1 302.5,691.2 306.5,691.6 310.5,692.2 314.5,693.0 318.5,694.2 322.5,695.5 326.5,696.5 330.5,697.4 334.5,698.1 338.5,698.4 342.5,698.3 346.5,697.9 350.5,696.9 354.5,695.6 358.5,694.2 362.5,693.0 366.5,691.9 370.5,690.9 374.5,689.9 378.5,689.2 382.5,688.5 386.5,688.3 390.5,688.2 394.5,688.5 398.5,689.0 402.5,689.7 406.5,690.6 410.5,691.8 414.5,692.8 418.5,693.8 422.5,694.4 426.5,694.8 430.5,694.9 434.5,694.6 438.5,694.1 442.5,693.4 446.5,692.3 450.5,690.9 454.5,689.2 458.5,687.7 462.5,686.2 466.5,684.6 470.5,682.7 474.5,680.5 478.5,678.0 482.5,675.5 486.5,673.3 490.5,671.3 494.5,669.6 498.5,668.2 502.5,667.2 506.5,666.7 510.5,666.7 514.5,666.9 518.5,667.2 522.5,667.5 526.5,667.7 530.5,667.8 534.5,668.1 538.5,668.4 542.5,669.0 546.5,670.0 550.5,671.3 554.5,672.8 558.5,674.8 562.5,677.0 566.5,679.3 570.5,681.3 574.5,682.9 578.5,683.9 582.5,684.5 586.5,684.7 590.5,684.7 594.5,684.6 598.5,684.3 602.5,684.1 606.5,684.0 610.5,684.1 614.5,684.5 618.5,684.9 622.5,685.4 626.5,685.7 630.5,685.7 634.5,685.4 638.5,684.8 642.5,684.1 646.5,683.3 650.5,682.4 654.5,681.5 658.5,680.4 662.5,679.4 666.5,678.5 670.5,677.6 674.5,676.8 678.5,675.8 682.5,674.7 686.5,673.8 690.5,673.2 694.5,672.8 698.5,672.8 702.5,673.0 706.5,673.4 710.5,673.9 714.5,674.4 718.5,674.6 722.5,674.5 726.5,674.0 730.5,673.0 734.5,671.9 738.5,670.9 742.5,669.8 746.5,668.8 750.5,668.2 754.5,668.1 758.5,668.6 762.5,669.5 766.5,670.7 770.5,672.1 774.5,673.4 778.5,674.6 782.5,675.8 786.5,677.0 790.5,678.1 794.5,679.0 798.5,679.8 802.5,680.7 806.5,681.6 810.5,682.8 814.5,684.1 818.5,685.6 822.5,687.1 826.5,688.5 830.5,689.8 834.5,690.7 838.5,691.3 842.5,691.6 846.5,691.6 850.5,691.6 854.5,691.7 858.5,691.7 862.5,691.8 866.5,692.2 870.5,693.0 874.5,694.3 878.5,695.9 882.5,697.8 886.5,699.7 890.5,701.5 894.5,703.3 898.5,705.1 902.5,706.6 906.5,707.8 910.5,708.6 914.5,708.8 918.5,708.6 922.5,708.0 926.5,706.6 930.5,704.4 934.5,701.5 938.5,697.7 942.5,693.3 946.5,688.6 950.5,683.4 954.5,677.7 958.5,671.4 962.5,664.9 966.5,658.6 970.5,653.0 974.5,649.1 978.5,646.9 982.5,645.8 986.5,645.5 990.5,647.0 994.5,650.5 998.5,656.4 1002.5,663.9 1006.5,672.4 1010.5,680.4 1014.5,687.8 1018.5,694.4 1022.5,699.8 1026.5,703.5 1030.5,705.1 1034.5,704.8 1038.5,703.0 1042.5,700.2 1046.5,697.4 1050.5,695.0 1054.5,693.1 1058.5,692.3 1062.5,692.2 1066.5,693.0 1070.5,693.8 1074.5,694.5 1078.5,694.9 1082.5,694.9 1086.5,694.1 1090.5,692.8 1094.5,691.6 1098.5,690.5 1102.5,689.4 1106.5,688.8 1110.5,688.5 1114.5,688.7 1118.5,689.1 1122.5,690.0 1126.5,691.0 1130.5,691.8 1134.5,692.4 1138.5,692.9 1142.5,692.9 1146.5,692.1 1150.5,690.8 1154.5,689.3 1158.5,687.7 1162.5,686.4 1166.5,685.4 1170.5,684.3 1174.5,683.5 1178.5,683.3 1182.5,683.6 1186.5,684.3 1190.5,685.3 1194.5,686.2 1198.5,686.7 1202.5,686.8 1206.5,686.5 1210.5,685.8" fill="none" stroke="#ff0000" stroke-width="1" stroke-dasharray="3,3" shape-rendering="crispEdges"/>
<text x="10.3" y="641" font-size="10" fill="#000" stroke="#000" stroke-width="0.12" textLength="150.5" lengthAdjust="spacingAndGlyphs" text-anchor="start">MACD(12,26,9) 0.000227 -0.001280</text>
<rect x="1522" y="630" width="2" height="1" fill="#000"/>
<text x="1525.5" y="639.5" font-size="10" fill="#000" stroke="#000" stroke-width="0.12" textLength="37.3" lengthAdjust="spacingAndGlyphs" text-anchor="start">0.011277</text>
<rect x="1522" y="680" width="2" height="1" fill="#000"/>
<text x="1525.5" y="684" font-size="10" fill="#000" stroke="#000" stroke-width="0.12" textLength="17.7" lengthAdjust="spacingAndGlyphs" text-anchor="start">0.00</text>
<rect x="1522" y="719" width="2" height="1" fill="#000"/>
<text x="1525.5" y="717.5" font-size="10" fill="#000" stroke="#000" stroke-width="0.12" textLength="35.9" lengthAdjust="spacingAndGlyphs" text-anchor="start">-0.00884</text>
<rect x="5" y="27" width="1517" height="1" fill="#000"/>
<rect x="5" y="532" width="1517" height="1" fill="#000"/>
<rect x="5" y="27" width="1" height="506" fill="#000"/>
<rect x="1521" y="27" width="1" height="506" fill="#000"/>
<rect x="5" y="534" width="1517" height="1" fill="#000"/>
<rect x="5" y="626" width="1517" height="1" fill="#000"/>
<rect x="5" y="534" width="1" height="93" fill="#000"/>
<rect x="1521" y="534" width="1" height="93" fill="#000"/>
<rect x="5" y="628" width="1517" height="1" fill="#000"/>
<rect x="5" y="720" width="1517" height="1" fill="#000"/>
<rect x="5" y="628" width="1" height="93" fill="#000"/>
<rect x="1521" y="628" width="1" height="93" fill="#000"/>
<rect x="1521" y="156" width="1" height="2" fill="#ff0000"/>
<rect x="1521" y="212" width="1" height="2" fill="#ff0000"/>
<rect x="1521" y="266" width="1" height="2" fill="#ff0000"/>
<rect x="1521" y="321" width="1" height="2" fill="#ff0000"/>
<rect x="1521" y="386" width="1" height="2" fill="#00ff00"/>
<rect x="1521" y="447" width="1" height="2" fill="#0000ff"/>
<rect x="1521" y="523" width="1" height="2" fill="#0000ff"/>
<rect x="6" y="721" width="1" height="3" fill="#000"/>
<text x="5" y="733" font-size="10" fill="#000" stroke="#000" stroke-width="0.12" textLength="45.3" lengthAdjust="spacingAndGlyphs" text-anchor="start">4 Jun 2019</text>
<rect x="70" y="721" width="1" height="3" fill="#000"/>
<text x="69" y="733" font-size="10" fill="#000" stroke="#000" stroke-width="0.12" textLength="50.4" lengthAdjust="spacingAndGlyphs" text-anchor="start">22 Jun 2019</text>
<rect x="134" y="721" width="1" height="3" fill="#000"/>
<text x="133" y="733" font-size="10" fill="#000" stroke="#000" stroke-width="0.12" textLength="46.6" lengthAdjust="spacingAndGlyphs" text-anchor="start">11 Jul 2019</text>
<rect x="198" y="721" width="1" height="3" fill="#000"/>
<text x="197" y="733" font-size="10" fill="#000" stroke="#000" stroke-width="0.12" textLength="47.3" lengthAdjust="spacingAndGlyphs" text-anchor="start">30 Jul 2019</text>
<rect x="262" y="721" width="1" height="3" fill="#000"/>
<text x="261" y="733" font-size="10" fill="#000" stroke="#000" stroke-width="0.12" textLength="51.4" lengthAdjust="spacingAndGlyphs" text-anchor="start">17 Aug 2019</text>
<rect x="326" y="721" width="1" height="3" fill="#000"/>
<text x="325" y="733" font-size="10" fill="#000" stroke="#000" stroke-width="0.12" textLength="46.8" lengthAdjust="spacingAndGlyphs" text-anchor="start">5 Sep 2019</text>
<rect x="390" y="721" width="1" height="3" fill="#000"/>
<text x="389" y="733" font-size="10" fill="#000" stroke="#000" stroke-width="0.12" textLength="51.9" lengthAdjust="spacingAndGlyphs" text-anchor="start">24 Sep 2019</text>
<rect x="454" y="721" width="1" height="3" fill="#000"/>
<text x="453" y="733" font-size="10" fill="#000" stroke="#000" stroke-width="0.12" textLength="49.8" lengthAdjust="spacingAndGlyphs" text-anchor="start">12 Oct 2019</text>
<rect x="518" y="721" width="1" height="3" fill="#000"/>
<text x="517" y="733" font-size="10" fill="#000" stroke="#000" stroke-width="0.12" textLength="49.8" lengthAdjust="spacingAndGlyphs" text-anchor="start">31 Oct 2019</text>
<rect x="582" y="721" width="1" height="3" fill="#000"/>
<text x="581" y="733" font-size="10" fill="#000" stroke="#000" stroke-width="0.12" textLength="51.9" lengthAdjust="spacingAndGlyphs" text-anchor="start">19 Nov 2019</text>
<rect x="646" y="721" width="1" height="3" fill="#000"/>
<text x="645" y="733" font-size="10" fill="#000" stroke="#000" stroke-width="0.12" textLength="46.8" lengthAdjust="spacingAndGlyphs" text-anchor="start">7 Dec 2019</text>
<rect x="710" y="721" width="1" height="3" fill="#000"/>
<text x="709" y="733" font-size="10" fill="#000" stroke="#000" stroke-width="0.12" textLength="51.9" lengthAdjust="spacingAndGlyphs" text-anchor="start">26 Dec 2019</text>
<rect x="774" y="721" width="1" height="3" fill="#000"/>
<text x="773" y="733" font-size="10" fill="#000" stroke="#000" stroke-width="0.12" textLength="50.4" lengthAdjust="spacingAndGlyphs" text-anchor="start">14 Jan 2020</text>
<rect x="838" y="721" width="1" height="3" fill="#000"/>
<text x="837" y="733" font-size="10" fill="#000" stroke="#000" stroke-width="0.12" textLength="46.3" lengthAdjust="spacingAndGlyphs" text-anchor="start">1 Feb 2020</text>
<rect x="902" y="721" width="1" height="3" fill="#000"/>
<text x="901" y="733" font-size="10" fill="#000" stroke="#000" stroke-width="0.12" textLength="51.4" lengthAdjust="spacingAndGlyphs" text-anchor="start">20 Feb 2020</text>
<rect x="966" y="721" width="1" height="3" fill="#000"/>
<text x="965" y="733" font-size="10" fill="#000" stroke="#000" stroke-width="0.12" textLength="51.4" lengthAdjust="spacingAndGlyphs" text-anchor="start">10 Mar 2020</text>
<rect x="1030" y="721" width="1" height="3" fill="#000"/>
<text x="1029" y="733" font-size="10" fill="#000" stroke="#000" stroke-width="0.12" textLength="51.4" lengthAdjust="spacingAndGlyphs" text-anchor="start">28 Mar 2020</text>
<rect x="1094" y="721" width="1" height="3" fill="#000"/>
<text x="1093" y="733" font-size="10" fill="#000" stroke="#000" stroke-width="0.12" textLength="49.3" lengthAdjust="spacingAndGlyphs" text-anchor="start">16 Apr 2020</text>
<rect x="1158" y="721" width="1" height="3" fill="#000"/>
<text x="1157" y="733" font-size="10" fill="#000" stroke="#000" stroke-width="0.12" textLength="47.8" lengthAdjust="spacingAndGlyphs" text-anchor="start">5 May 2020</text>
<rect x="0" y="741" width="1561" height="1" fill="#e3e3e3"/>
<rect x="0" y="743" width="1561" height="19" fill="#f0f0f0"/>
<rect x="0" y="743" width="1561" height="1" fill="#000"/>
<rect x="8" y="744" width="102" height="17" fill="#ffffff"/>
<rect x="7" y="743" width="1" height="19" fill="#000"/>
<rect x="110" y="743" width="1" height="19" fill="#000"/>
<rect x="7" y="761" width="104" height="1" fill="#000"/>
<rect x="2" y="743" width="1" height="19" fill="#7f7f7f"/>
<text x="19.6" y="758" font-size="12.5" fill="#000" stroke="#000" stroke-width="0" textLength="79.2" lengthAdjust="spacingAndGlyphs" text-anchor="start">EURUSD,Daily</text>
<text x="121" y="758" font-size="12.5" fill="#5a5a5a" stroke="#5a5a5a" stroke-width="0" textLength="79.0" lengthAdjust="spacingAndGlyphs" text-anchor="start">USDCHF,Daily</text>
<text x="222.5" y="758" font-size="12.5" fill="#5a5a5a" stroke="#5a5a5a" stroke-width="0" textLength="81.5" lengthAdjust="spacingAndGlyphs" text-anchor="start">AUDUSD,Daily</text>
<text x="326" y="758" font-size="12.5" fill="#5a5a5a" stroke="#5a5a5a" stroke-width="0" textLength="80.7" lengthAdjust="spacingAndGlyphs" text-anchor="start">USDCAD,Daily</text>
<text x="429.7" y="758" font-size="12.5" fill="#5a5a5a" stroke="#5a5a5a" stroke-width="0" textLength="82.0" lengthAdjust="spacingAndGlyphs" text-anchor="start">USDCNH,Daily</text>
<text x="534" y="758" font-size="12.5" fill="#5a5a5a" stroke="#5a5a5a" stroke-width="0" textLength="81.0" lengthAdjust="spacingAndGlyphs" text-anchor="start">EURUSD,Daily</text>
<text x="639" y="758" font-size="12.5" fill="#5a5a5a" stroke="#5a5a5a" stroke-width="0" textLength="80.0" lengthAdjust="spacingAndGlyphs" text-anchor="start">GBPUSD,Daily</text>
<text x="743" y="758" font-size="12.5" fill="#5a5a5a" stroke="#5a5a5a" stroke-width="0" textLength="99.5" lengthAdjust="spacingAndGlyphs" text-anchor="start">XAUUSD,Monthly</text>
<text x="866" y="758" font-size="12.5" fill="#5a5a5a" stroke="#5a5a5a" stroke-width="0" textLength="49.0" lengthAdjust="spacingAndGlyphs" text-anchor="start">HK50,H1</text>
<text x="938" y="758" font-size="12.5" fill="#5a5a5a" stroke="#5a5a5a" stroke-width="0" textLength="56.0" lengthAdjust="spacingAndGlyphs" text-anchor="start">UK100,H1</text>
<text x="1018" y="758" font-size="12.5" fill="#5a5a5a" stroke="#5a5a5a" stroke-width="0" textLength="56.0" lengthAdjust="spacingAndGlyphs" text-anchor="start">UK100,H1</text>
<text x="1098" y="758" font-size="12.5" fill="#5a5a5a" stroke="#5a5a5a" stroke-width="0" textLength="56.5" lengthAdjust="spacingAndGlyphs" text-anchor="start">GER30,H1</text>
<text x="1177.5" y="758" font-size="12.5" fill="#5a5a5a" stroke="#5a5a5a" stroke-width="0" textLength="54.2" lengthAdjust="spacingAndGlyphs" text-anchor="start">FRA40,H1</text>
<text x="1253" y="758" font-size="12.5" fill="#5a5a5a" stroke="#5a5a5a" stroke-width="0" textLength="63.0" lengthAdjust="spacingAndGlyphs" text-anchor="start">USOil,Daily</text>
<text x="1337" y="758" font-size="12.5" fill="#5a5a5a" stroke="#5a5a5a" stroke-width="0" textLength="62.5" lengthAdjust="spacingAndGlyphs" text-anchor="start">USDJPY,H1</text>
<text x="1421.4" y="758" font-size="12.5" fill="#5a5a5a" stroke="#5a5a5a" stroke-width="0" textLength="58.6" lengthAdjust="spacingAndGlyphs" text-anchor="start">DJ30,Daily</text>
<rect x="211" y="746" width="1" height="13" fill="#6d6d6d"/>
<rect x="315" y="746" width="1" height="13" fill="#6d6d6d"/>
<rect x="419" y="746" width="1" height="13" fill="#6d6d6d"/>
<rect x="523" y="746" width="1" height="13" fill="#6d6d6d"/>
<rect x="627" y="746" width="1" height="13" fill="#6d6d6d"/>
<rect x="731" y="746" width="1" height="13" fill="#6d6d6d"/>
<rect x="855" y="746" width="1" height="13" fill="#6d6d6d"/>
<rect x="927" y="746" width="1" height="13" fill="#6d6d6d"/>
<rect x="1007" y="746" width="1" height="13" fill="#6d6d6d"/>
<rect x="1087" y="746" width="1" height="13" fill="#6d6d6d"/>
<rect x="1167" y="746" width="1" height="13" fill="#6d6d6d"/>
<rect x="1244" y="746" width="1" height="13" fill="#6d6d6d"/>
<rect x="1328" y="746" width="1" height="13" fill="#6d6d6d"/>
<rect x="1411" y="746" width="1" height="13" fill="#6d6d6d"/>
<rect x="1491" y="746" width="1" height="13" fill="#6d6d6d"/>
<path d="M1540.5,748.5 L1540.5,755.5 L1536.8,752 Z" fill="#8a8a8a"/>
<path d="M1555.8,748.5 L1555.8,755.5 L1559.5,752 Z" fill="#8a8a8a"/>
</svg>
</body></html>
